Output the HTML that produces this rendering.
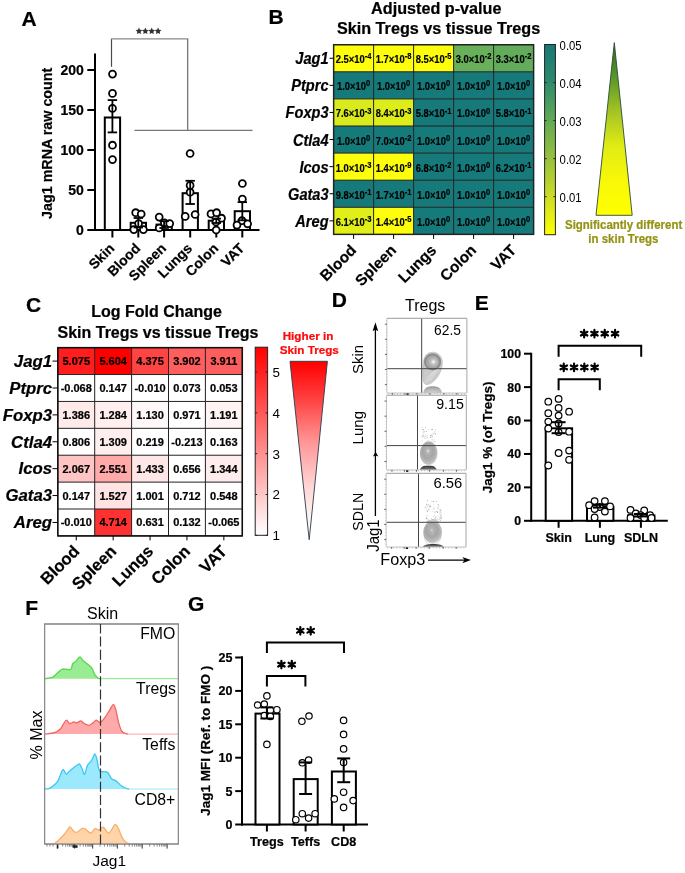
<!DOCTYPE html><html><head><meta charset="utf-8"><style>html,body{margin:0;padding:0;background:#fff;}svg{display:block;will-change:transform;}text{font-family:"Liberation Sans",sans-serif;}</style></head><body>
<svg width="685" height="873" viewBox="0 0 685 873">
<defs>
<linearGradient id="gB" x1="0" y1="0" x2="0" y2="1"><stop offset="0" stop-color="#177878"/><stop offset="0.2" stop-color="#2E8B6C"/><stop offset="0.4" stop-color="#62AA56"/><stop offset="0.6" stop-color="#97C13E"/><stop offset="0.8" stop-color="#CBDC25"/><stop offset="1" stop-color="#FFFF00"/></linearGradient>
<linearGradient id="gTriB" x1="0" y1="0" x2="0" y2="1"><stop offset="0" stop-color="#2A6A1C"/><stop offset="0.2" stop-color="#5A9628"/><stop offset="0.4" stop-color="#A4C424"/><stop offset="0.6" stop-color="#E0EC14"/><stop offset="0.8" stop-color="#F8F808"/><stop offset="1" stop-color="#FFFF00"/></linearGradient>
<linearGradient id="gC" x1="0" y1="0" x2="0" y2="1"><stop offset="0" stop-color="#FF0000"/><stop offset="1" stop-color="#FFFFFF"/></linearGradient>
<linearGradient id="gTriC" x1="0" y1="0" x2="0" y2="1"><stop offset="0" stop-color="#FF0000"/><stop offset="0.21" stop-color="#FF4040"/><stop offset="0.45" stop-color="#FF9595"/><stop offset="0.7" stop-color="#FFD5D5"/><stop offset="0.86" stop-color="#FFF0F0"/><stop offset="1" stop-color="#FFFFFF"/></linearGradient>
<radialGradient id="blobTop" cx="0.55" cy="0.5" r="0.5"><stop offset="0" stop-color="#fff"/><stop offset="0.2" stop-color="#e2e2e2"/><stop offset="0.45" stop-color="#c2c2c2"/><stop offset="0.8" stop-color="#b0b0b0"/><stop offset="1" stop-color="#a6a6a6"/></radialGradient>
<radialGradient id="blobMid" cx="0.45" cy="0.4" r="0.6"><stop offset="0" stop-color="#fafafa"/><stop offset="0.1" stop-color="#bdbdbd"/><stop offset="0.5" stop-color="#a8a8a8"/><stop offset="0.8" stop-color="#bcbcbc"/><stop offset="1" stop-color="#dedede"/></radialGradient>
<radialGradient id="blobBot1" cx="0.5" cy="1" r="1"><stop offset="0" stop-color="#d4d4d4"/><stop offset="0.6" stop-color="#b4b4b4"/><stop offset="0.88" stop-color="#999"/><stop offset="1" stop-color="#ccc"/></radialGradient>
<radialGradient id="blobBot2" cx="0.5" cy="1" r="1"><stop offset="0" stop-color="#777"/><stop offset="0.6" stop-color="#555"/><stop offset="0.9" stop-color="#333"/><stop offset="1" stop-color="#888"/></radialGradient>
</defs>
<text x="21.50" y="25.60" font-size="21" font-weight="bold" stroke="#000" stroke-width="0.22"  text-anchor="start" fill="#000" >A</text>
<line x1="95.00" y1="53.50" x2="95.00" y2="231.00" stroke="#000" stroke-width="2" />
<line x1="87.30" y1="230.00" x2="95.00" y2="230.00" stroke="#000" stroke-width="2" />
<text x="83.90" y="234.90" font-size="14" font-weight="bold" stroke="#000" stroke-width="0.22"  text-anchor="end" fill="#000" >0</text>
<line x1="87.30" y1="190.00" x2="95.00" y2="190.00" stroke="#000" stroke-width="2" />
<text x="83.90" y="194.90" font-size="14" font-weight="bold" stroke="#000" stroke-width="0.22"  text-anchor="end" fill="#000" >50</text>
<line x1="87.30" y1="150.00" x2="95.00" y2="150.00" stroke="#000" stroke-width="2" />
<text x="83.90" y="154.90" font-size="14" font-weight="bold" stroke="#000" stroke-width="0.22"  text-anchor="end" fill="#000" >100</text>
<line x1="87.30" y1="110.00" x2="95.00" y2="110.00" stroke="#000" stroke-width="2" />
<text x="83.90" y="114.90" font-size="14" font-weight="bold" stroke="#000" stroke-width="0.22"  text-anchor="end" fill="#000" >150</text>
<line x1="87.30" y1="70.00" x2="95.00" y2="70.00" stroke="#000" stroke-width="2" />
<text x="83.90" y="74.90" font-size="14" font-weight="bold" stroke="#000" stroke-width="0.22"  text-anchor="end" fill="#000" >200</text>
<text transform="translate(51.80,143.30) rotate(-90)" font-size="14.3" font-weight="bold" stroke="#000" stroke-width="0.22"  text-anchor="middle" fill="#000">Jag1 mRNA raw count</text>
<line x1="94.00" y1="230.00" x2="259.50" y2="230.00" stroke="#000" stroke-width="2" />
<line x1="112.40" y1="230.00" x2="112.40" y2="237.50" stroke="#000" stroke-width="2" />
<line x1="138.30" y1="230.00" x2="138.30" y2="237.50" stroke="#000" stroke-width="2" />
<line x1="164.10" y1="230.00" x2="164.10" y2="237.50" stroke="#000" stroke-width="2" />
<line x1="190.20" y1="230.00" x2="190.20" y2="237.50" stroke="#000" stroke-width="2" />
<line x1="216.30" y1="230.00" x2="216.30" y2="237.50" stroke="#000" stroke-width="2" />
<line x1="242.30" y1="230.00" x2="242.30" y2="237.50" stroke="#000" stroke-width="2" />
<text transform="translate(115.30,249.20) rotate(-45)" font-size="14.0" font-weight="bold" stroke="#000" stroke-width="0.22"  text-anchor="end" fill="#000">Skin</text>
<text transform="translate(141.20,249.20) rotate(-45)" font-size="14.0" font-weight="bold" stroke="#000" stroke-width="0.22"  text-anchor="end" fill="#000">Blood</text>
<text transform="translate(167.00,249.20) rotate(-45)" font-size="14.0" font-weight="bold" stroke="#000" stroke-width="0.22"  text-anchor="end" fill="#000">Spleen</text>
<text transform="translate(193.10,249.20) rotate(-45)" font-size="14.0" font-weight="bold" stroke="#000" stroke-width="0.22"  text-anchor="end" fill="#000">Lungs</text>
<text transform="translate(219.20,249.20) rotate(-45)" font-size="14.0" font-weight="bold" stroke="#000" stroke-width="0.22"  text-anchor="end" fill="#000">Colon</text>
<text transform="translate(245.20,249.20) rotate(-45)" font-size="14.0" font-weight="bold" stroke="#000" stroke-width="0.22"  text-anchor="end" fill="#000">VAT</text>
<rect x="104.80" y="117.50" width="15.30" height="112.50" fill="#fff" stroke="#000" stroke-width="2" />
<rect x="130.70" y="222.80" width="15.30" height="7.20" fill="#fff" stroke="#000" stroke-width="2" />
<rect x="156.50" y="224.60" width="15.30" height="5.40" fill="#fff" stroke="#000" stroke-width="2" />
<rect x="182.60" y="193.20" width="15.30" height="36.80" fill="#fff" stroke="#000" stroke-width="2" />
<rect x="208.70" y="220.70" width="15.30" height="9.30" fill="#fff" stroke="#000" stroke-width="2" />
<rect x="234.70" y="211.20" width="15.30" height="18.80" fill="#fff" stroke="#000" stroke-width="2" />
<circle cx="112.50" cy="74.10" r="3.45" fill="#fff" stroke="#000" stroke-width="1.8"/>
<circle cx="112.50" cy="93.40" r="3.45" fill="#fff" stroke="#000" stroke-width="1.8"/>
<circle cx="112.50" cy="108.40" r="3.45" fill="#fff" stroke="#000" stroke-width="1.8"/>
<circle cx="112.50" cy="145.20" r="3.45" fill="#fff" stroke="#000" stroke-width="1.8"/>
<circle cx="112.50" cy="159.60" r="3.45" fill="#fff" stroke="#000" stroke-width="1.8"/>
<circle cx="135.70" cy="212.70" r="3.45" fill="#fff" stroke="#000" stroke-width="1.8"/>
<circle cx="141.20" cy="214.00" r="3.45" fill="#fff" stroke="#000" stroke-width="1.8"/>
<circle cx="138.60" cy="223.60" r="3.45" fill="#fff" stroke="#000" stroke-width="1.8"/>
<circle cx="133.80" cy="229.60" r="3.45" fill="#fff" stroke="#000" stroke-width="1.8"/>
<circle cx="143.40" cy="229.60" r="3.45" fill="#fff" stroke="#000" stroke-width="1.8"/>
<circle cx="159.20" cy="217.10" r="3.45" fill="#fff" stroke="#000" stroke-width="1.8"/>
<circle cx="164.40" cy="222.80" r="3.45" fill="#fff" stroke="#000" stroke-width="1.8"/>
<circle cx="169.70" cy="223.60" r="3.45" fill="#fff" stroke="#000" stroke-width="1.8"/>
<circle cx="159.20" cy="228.00" r="3.45" fill="#fff" stroke="#000" stroke-width="1.8"/>
<circle cx="190.10" cy="153.50" r="3.45" fill="#fff" stroke="#000" stroke-width="1.8"/>
<circle cx="190.10" cy="185.40" r="3.45" fill="#fff" stroke="#000" stroke-width="1.8"/>
<circle cx="190.10" cy="192.20" r="3.45" fill="#fff" stroke="#000" stroke-width="1.8"/>
<circle cx="185.20" cy="216.40" r="3.45" fill="#fff" stroke="#000" stroke-width="1.8"/>
<circle cx="195.10" cy="214.50" r="3.45" fill="#fff" stroke="#000" stroke-width="1.8"/>
<circle cx="211.00" cy="213.90" r="3.45" fill="#fff" stroke="#000" stroke-width="1.8"/>
<circle cx="216.60" cy="212.70" r="3.45" fill="#fff" stroke="#000" stroke-width="1.8"/>
<circle cx="221.50" cy="218.20" r="3.45" fill="#fff" stroke="#000" stroke-width="1.8"/>
<circle cx="216.00" cy="222.00" r="3.45" fill="#fff" stroke="#000" stroke-width="1.8"/>
<circle cx="216.20" cy="230.00" r="3.45" fill="#fff" stroke="#000" stroke-width="1.8"/>
<circle cx="242.40" cy="183.50" r="3.45" fill="#fff" stroke="#000" stroke-width="1.8"/>
<circle cx="242.40" cy="199.00" r="3.45" fill="#fff" stroke="#000" stroke-width="1.8"/>
<circle cx="242.00" cy="220.70" r="3.45" fill="#fff" stroke="#000" stroke-width="1.8"/>
<circle cx="237.00" cy="225.10" r="3.45" fill="#fff" stroke="#000" stroke-width="1.8"/>
<circle cx="247.60" cy="223.80" r="3.45" fill="#fff" stroke="#000" stroke-width="1.8"/>
<line x1="112.40" y1="100.10" x2="112.40" y2="132.40" stroke="#000" stroke-width="1.8" />
<line x1="107.70" y1="100.10" x2="117.10" y2="100.10" stroke="#000" stroke-width="1.8" />
<line x1="107.70" y1="132.40" x2="117.10" y2="132.40" stroke="#000" stroke-width="1.8" />
<line x1="138.30" y1="218.00" x2="138.30" y2="227.50" stroke="#000" stroke-width="1.8" />
<line x1="133.60" y1="218.00" x2="143.00" y2="218.00" stroke="#000" stroke-width="1.8" />
<line x1="133.60" y1="227.50" x2="143.00" y2="227.50" stroke="#000" stroke-width="1.8" />
<line x1="164.10" y1="221.20" x2="164.10" y2="228.00" stroke="#000" stroke-width="1.8" />
<line x1="159.40" y1="221.20" x2="168.80" y2="221.20" stroke="#000" stroke-width="1.8" />
<line x1="159.40" y1="228.00" x2="168.80" y2="228.00" stroke="#000" stroke-width="1.8" />
<line x1="190.20" y1="180.80" x2="190.20" y2="204.00" stroke="#000" stroke-width="1.8" />
<line x1="185.50" y1="180.80" x2="194.90" y2="180.80" stroke="#000" stroke-width="1.8" />
<line x1="185.50" y1="204.00" x2="194.90" y2="204.00" stroke="#000" stroke-width="1.8" />
<line x1="216.30" y1="218.60" x2="216.30" y2="223.00" stroke="#000" stroke-width="1.8" />
<line x1="211.60" y1="218.60" x2="221.00" y2="218.60" stroke="#000" stroke-width="1.8" />
<line x1="211.60" y1="223.00" x2="221.00" y2="223.00" stroke="#000" stroke-width="1.8" />
<line x1="242.30" y1="202.10" x2="242.30" y2="220.30" stroke="#000" stroke-width="1.8" />
<line x1="237.60" y1="202.10" x2="247.00" y2="202.10" stroke="#000" stroke-width="1.8" />
<line x1="237.60" y1="220.30" x2="247.00" y2="220.30" stroke="#000" stroke-width="1.8" />
<line x1="111.50" y1="66.80" x2="111.50" y2="38.90" stroke="#4a4a4a" stroke-width="1.2" />
<line x1="110.90" y1="38.90" x2="188.30" y2="38.90" stroke="#8a8a8a" stroke-width="1.3" />
<line x1="187.70" y1="38.90" x2="187.70" y2="130.40" stroke="#6a6a6a" stroke-width="1.2" />
<line x1="134.40" y1="130.40" x2="252.50" y2="130.40" stroke="#777" stroke-width="1.2" />
<polygon points="139.00,27.60 140.03,29.78 142.42,30.09 140.66,31.74 141.12,34.11 139.00,32.95 136.88,34.11 137.34,31.74 135.58,30.09 137.97,29.78" fill="#333"/>
<polygon points="145.35,27.60 146.38,29.78 148.77,30.09 147.01,31.74 147.47,34.11 145.35,32.95 143.23,34.11 143.69,31.74 141.93,30.09 144.32,29.78" fill="#333"/>
<polygon points="151.70,27.60 152.73,29.78 155.12,30.09 153.36,31.74 153.82,34.11 151.70,32.95 149.58,34.11 150.04,31.74 148.28,30.09 150.67,29.78" fill="#333"/>
<polygon points="158.05,27.60 159.08,29.78 161.47,30.09 159.71,31.74 160.17,34.11 158.05,32.95 155.93,34.11 156.39,31.74 154.63,30.09 157.02,29.78" fill="#333"/>
<text x="268.60" y="23.90" font-size="21" font-weight="bold" stroke="#000" stroke-width="0.22"  text-anchor="start" fill="#000" >B</text>
<text x="436.30" y="13.60" font-size="16.2" font-weight="bold" stroke="#000" stroke-width="0.22"  text-anchor="middle" fill="#000" >Adjusted p-value</text>
<text x="438.60" y="33.80" font-size="16.2" font-weight="bold" stroke="#000" stroke-width="0.22"  text-anchor="middle" fill="#000" >Skin Tregs vs tissue Tregs</text>
<rect x="333.60" y="44.70" width="40.00" height="27.10" fill="#FDFD0C" stroke="none" stroke-width="1" />
<rect x="373.60" y="44.70" width="40.00" height="27.10" fill="#FDFD0C" stroke="none" stroke-width="1" />
<rect x="413.60" y="44.70" width="40.00" height="27.10" fill="#FDFD0C" stroke="none" stroke-width="1" />
<rect x="453.60" y="44.70" width="40.00" height="27.10" fill="#69B05A" stroke="none" stroke-width="1" />
<rect x="493.60" y="44.70" width="40.00" height="27.10" fill="#62AC5C" stroke="none" stroke-width="1" />
<rect x="333.60" y="71.80" width="40.00" height="27.10" fill="#16797A" stroke="none" stroke-width="1" />
<rect x="373.60" y="71.80" width="40.00" height="27.10" fill="#16797A" stroke="none" stroke-width="1" />
<rect x="413.60" y="71.80" width="40.00" height="27.10" fill="#16797A" stroke="none" stroke-width="1" />
<rect x="453.60" y="71.80" width="40.00" height="27.10" fill="#16797A" stroke="none" stroke-width="1" />
<rect x="493.60" y="71.80" width="40.00" height="27.10" fill="#16797A" stroke="none" stroke-width="1" />
<rect x="333.60" y="98.90" width="40.00" height="27.10" fill="#D9EB1C" stroke="none" stroke-width="1" />
<rect x="373.60" y="98.90" width="40.00" height="27.10" fill="#DDED1A" stroke="none" stroke-width="1" />
<rect x="413.60" y="98.90" width="40.00" height="27.10" fill="#16797A" stroke="none" stroke-width="1" />
<rect x="453.60" y="98.90" width="40.00" height="27.10" fill="#16797A" stroke="none" stroke-width="1" />
<rect x="493.60" y="98.90" width="40.00" height="27.10" fill="#16797A" stroke="none" stroke-width="1" />
<rect x="333.60" y="126.00" width="40.00" height="27.10" fill="#16797A" stroke="none" stroke-width="1" />
<rect x="373.60" y="126.00" width="40.00" height="27.10" fill="#16797A" stroke="none" stroke-width="1" />
<rect x="413.60" y="126.00" width="40.00" height="27.10" fill="#16797A" stroke="none" stroke-width="1" />
<rect x="453.60" y="126.00" width="40.00" height="27.10" fill="#16797A" stroke="none" stroke-width="1" />
<rect x="493.60" y="126.00" width="40.00" height="27.10" fill="#16797A" stroke="none" stroke-width="1" />
<rect x="333.60" y="153.10" width="40.00" height="27.10" fill="#FDFD0C" stroke="none" stroke-width="1" />
<rect x="373.60" y="153.10" width="40.00" height="27.10" fill="#FDFD0C" stroke="none" stroke-width="1" />
<rect x="413.60" y="153.10" width="40.00" height="27.10" fill="#16797A" stroke="none" stroke-width="1" />
<rect x="453.60" y="153.10" width="40.00" height="27.10" fill="#16797A" stroke="none" stroke-width="1" />
<rect x="493.60" y="153.10" width="40.00" height="27.10" fill="#16797A" stroke="none" stroke-width="1" />
<rect x="333.60" y="180.20" width="40.00" height="27.10" fill="#16797A" stroke="none" stroke-width="1" />
<rect x="373.60" y="180.20" width="40.00" height="27.10" fill="#16797A" stroke="none" stroke-width="1" />
<rect x="413.60" y="180.20" width="40.00" height="27.10" fill="#16797A" stroke="none" stroke-width="1" />
<rect x="453.60" y="180.20" width="40.00" height="27.10" fill="#16797A" stroke="none" stroke-width="1" />
<rect x="493.60" y="180.20" width="40.00" height="27.10" fill="#16797A" stroke="none" stroke-width="1" />
<rect x="333.60" y="207.30" width="40.00" height="27.10" fill="#E1EF18" stroke="none" stroke-width="1" />
<rect x="373.60" y="207.30" width="40.00" height="27.10" fill="#FDFD0C" stroke="none" stroke-width="1" />
<rect x="413.60" y="207.30" width="40.00" height="27.10" fill="#16797A" stroke="none" stroke-width="1" />
<rect x="453.60" y="207.30" width="40.00" height="27.10" fill="#16797A" stroke="none" stroke-width="1" />
<rect x="493.60" y="207.30" width="40.00" height="27.10" fill="#16797A" stroke="none" stroke-width="1" />
<text transform="translate(353.60,63.25) scale(0.9,1)" font-size="10.4" font-weight="bold" stroke="#000" stroke-width="0.18" text-anchor="middle" fill="#000">2.5×10<tspan font-size="8.4" dy="-3.9">-4</tspan></text>
<text transform="translate(393.60,63.25) scale(0.9,1)" font-size="10.4" font-weight="bold" stroke="#000" stroke-width="0.18" text-anchor="middle" fill="#000">1.7×10<tspan font-size="8.4" dy="-3.9">-8</tspan></text>
<text transform="translate(433.60,63.25) scale(0.9,1)" font-size="10.4" font-weight="bold" stroke="#000" stroke-width="0.18" text-anchor="middle" fill="#000">8.5×10<tspan font-size="8.4" dy="-3.9">-5</tspan></text>
<text transform="translate(473.60,63.25) scale(0.9,1)" font-size="10.4" font-weight="bold" stroke="#000" stroke-width="0.18" text-anchor="middle" fill="#000">3.0×10<tspan font-size="8.4" dy="-3.9">-2</tspan></text>
<text transform="translate(513.60,63.25) scale(0.9,1)" font-size="10.4" font-weight="bold" stroke="#000" stroke-width="0.18" text-anchor="middle" fill="#000">3.3×10<tspan font-size="8.4" dy="-3.9">-2</tspan></text>
<text transform="translate(353.60,90.35) scale(0.9,1)" font-size="10.4" font-weight="bold" stroke="#000" stroke-width="0.18" text-anchor="middle" fill="#000">1.0×10<tspan font-size="8.4" dy="-3.9">0</tspan></text>
<text transform="translate(393.60,90.35) scale(0.9,1)" font-size="10.4" font-weight="bold" stroke="#000" stroke-width="0.18" text-anchor="middle" fill="#000">1.0×10<tspan font-size="8.4" dy="-3.9">0</tspan></text>
<text transform="translate(433.60,90.35) scale(0.9,1)" font-size="10.4" font-weight="bold" stroke="#000" stroke-width="0.18" text-anchor="middle" fill="#000">1.0×10<tspan font-size="8.4" dy="-3.9">0</tspan></text>
<text transform="translate(473.60,90.35) scale(0.9,1)" font-size="10.4" font-weight="bold" stroke="#000" stroke-width="0.18" text-anchor="middle" fill="#000">1.0×10<tspan font-size="8.4" dy="-3.9">0</tspan></text>
<text transform="translate(513.60,90.35) scale(0.9,1)" font-size="10.4" font-weight="bold" stroke="#000" stroke-width="0.18" text-anchor="middle" fill="#000">1.0×10<tspan font-size="8.4" dy="-3.9">0</tspan></text>
<text transform="translate(353.60,117.45) scale(0.9,1)" font-size="10.4" font-weight="bold" stroke="#000" stroke-width="0.18" text-anchor="middle" fill="#000">7.6×10<tspan font-size="8.4" dy="-3.9">-3</tspan></text>
<text transform="translate(393.60,117.45) scale(0.9,1)" font-size="10.4" font-weight="bold" stroke="#000" stroke-width="0.18" text-anchor="middle" fill="#000">8.4×10<tspan font-size="8.4" dy="-3.9">-3</tspan></text>
<text transform="translate(433.60,117.45) scale(0.9,1)" font-size="10.4" font-weight="bold" stroke="#000" stroke-width="0.18" text-anchor="middle" fill="#000">5.8×10<tspan font-size="8.4" dy="-3.9">-1</tspan></text>
<text transform="translate(473.60,117.45) scale(0.9,1)" font-size="10.4" font-weight="bold" stroke="#000" stroke-width="0.18" text-anchor="middle" fill="#000">1.0×10<tspan font-size="8.4" dy="-3.9">0</tspan></text>
<text transform="translate(513.60,117.45) scale(0.9,1)" font-size="10.4" font-weight="bold" stroke="#000" stroke-width="0.18" text-anchor="middle" fill="#000">5.8×10<tspan font-size="8.4" dy="-3.9">-1</tspan></text>
<text transform="translate(353.60,144.55) scale(0.9,1)" font-size="10.4" font-weight="bold" stroke="#000" stroke-width="0.18" text-anchor="middle" fill="#000">1.0×10<tspan font-size="8.4" dy="-3.9">0</tspan></text>
<text transform="translate(393.60,144.55) scale(0.9,1)" font-size="10.4" font-weight="bold" stroke="#000" stroke-width="0.18" text-anchor="middle" fill="#000">7.0×10<tspan font-size="8.4" dy="-3.9">-2</tspan></text>
<text transform="translate(433.60,144.55) scale(0.9,1)" font-size="10.4" font-weight="bold" stroke="#000" stroke-width="0.18" text-anchor="middle" fill="#000">1.0×10<tspan font-size="8.4" dy="-3.9">0</tspan></text>
<text transform="translate(473.60,144.55) scale(0.9,1)" font-size="10.4" font-weight="bold" stroke="#000" stroke-width="0.18" text-anchor="middle" fill="#000">1.0×10<tspan font-size="8.4" dy="-3.9">0</tspan></text>
<text transform="translate(513.60,144.55) scale(0.9,1)" font-size="10.4" font-weight="bold" stroke="#000" stroke-width="0.18" text-anchor="middle" fill="#000">1.0×10<tspan font-size="8.4" dy="-3.9">0</tspan></text>
<text transform="translate(353.60,171.65) scale(0.9,1)" font-size="10.4" font-weight="bold" stroke="#000" stroke-width="0.18" text-anchor="middle" fill="#000">1.0×10<tspan font-size="8.4" dy="-3.9">-3</tspan></text>
<text transform="translate(393.60,171.65) scale(0.9,1)" font-size="10.4" font-weight="bold" stroke="#000" stroke-width="0.18" text-anchor="middle" fill="#000">1.4×10<tspan font-size="8.4" dy="-3.9">-9</tspan></text>
<text transform="translate(433.60,171.65) scale(0.9,1)" font-size="10.4" font-weight="bold" stroke="#000" stroke-width="0.18" text-anchor="middle" fill="#000">6.8×10<tspan font-size="8.4" dy="-3.9">-2</tspan></text>
<text transform="translate(473.60,171.65) scale(0.9,1)" font-size="10.4" font-weight="bold" stroke="#000" stroke-width="0.18" text-anchor="middle" fill="#000">1.0×10<tspan font-size="8.4" dy="-3.9">0</tspan></text>
<text transform="translate(513.60,171.65) scale(0.9,1)" font-size="10.4" font-weight="bold" stroke="#000" stroke-width="0.18" text-anchor="middle" fill="#000">6.2×10<tspan font-size="8.4" dy="-3.9">-1</tspan></text>
<text transform="translate(353.60,198.75) scale(0.9,1)" font-size="10.4" font-weight="bold" stroke="#000" stroke-width="0.18" text-anchor="middle" fill="#000">9.8×10<tspan font-size="8.4" dy="-3.9">-1</tspan></text>
<text transform="translate(393.60,198.75) scale(0.9,1)" font-size="10.4" font-weight="bold" stroke="#000" stroke-width="0.18" text-anchor="middle" fill="#000">1.7×10<tspan font-size="8.4" dy="-3.9">-1</tspan></text>
<text transform="translate(433.60,198.75) scale(0.9,1)" font-size="10.4" font-weight="bold" stroke="#000" stroke-width="0.18" text-anchor="middle" fill="#000">1.0×10<tspan font-size="8.4" dy="-3.9">0</tspan></text>
<text transform="translate(473.60,198.75) scale(0.9,1)" font-size="10.4" font-weight="bold" stroke="#000" stroke-width="0.18" text-anchor="middle" fill="#000">1.0×10<tspan font-size="8.4" dy="-3.9">0</tspan></text>
<text transform="translate(513.60,198.75) scale(0.9,1)" font-size="10.4" font-weight="bold" stroke="#000" stroke-width="0.18" text-anchor="middle" fill="#000">1.0×10<tspan font-size="8.4" dy="-3.9">0</tspan></text>
<text transform="translate(353.60,225.85) scale(0.9,1)" font-size="10.4" font-weight="bold" stroke="#000" stroke-width="0.18" text-anchor="middle" fill="#000">6.1×10<tspan font-size="8.4" dy="-3.9">-3</tspan></text>
<text transform="translate(393.60,225.85) scale(0.9,1)" font-size="10.4" font-weight="bold" stroke="#000" stroke-width="0.18" text-anchor="middle" fill="#000">1.4×10<tspan font-size="8.4" dy="-3.9">-5</tspan></text>
<text transform="translate(433.60,225.85) scale(0.9,1)" font-size="10.4" font-weight="bold" stroke="#000" stroke-width="0.18" text-anchor="middle" fill="#000">1.0×10<tspan font-size="8.4" dy="-3.9">0</tspan></text>
<text transform="translate(473.60,225.85) scale(0.9,1)" font-size="10.4" font-weight="bold" stroke="#000" stroke-width="0.18" text-anchor="middle" fill="#000">1.0×10<tspan font-size="8.4" dy="-3.9">0</tspan></text>
<text transform="translate(513.60,225.85) scale(0.9,1)" font-size="10.4" font-weight="bold" stroke="#000" stroke-width="0.18" text-anchor="middle" fill="#000">1.0×10<tspan font-size="8.4" dy="-3.9">0</tspan></text>
<line x1="333.60" y1="44.70" x2="333.60" y2="234.40" stroke="#222" stroke-width="1" />
<line x1="373.60" y1="44.70" x2="373.60" y2="234.40" stroke="#222" stroke-width="1" />
<line x1="413.60" y1="44.70" x2="413.60" y2="234.40" stroke="#222" stroke-width="1" />
<line x1="453.60" y1="44.70" x2="453.60" y2="234.40" stroke="#222" stroke-width="1" />
<line x1="493.60" y1="44.70" x2="493.60" y2="234.40" stroke="#222" stroke-width="1" />
<line x1="533.60" y1="44.70" x2="533.60" y2="234.40" stroke="#222" stroke-width="1" />
<line x1="333.60" y1="44.70" x2="533.60" y2="44.70" stroke="#222" stroke-width="1" />
<line x1="333.60" y1="71.80" x2="533.60" y2="71.80" stroke="#222" stroke-width="1" />
<line x1="333.60" y1="98.90" x2="533.60" y2="98.90" stroke="#222" stroke-width="1" />
<line x1="333.60" y1="126.00" x2="533.60" y2="126.00" stroke="#222" stroke-width="1" />
<line x1="333.60" y1="153.10" x2="533.60" y2="153.10" stroke="#222" stroke-width="1" />
<line x1="333.60" y1="180.20" x2="533.60" y2="180.20" stroke="#222" stroke-width="1" />
<line x1="333.60" y1="207.30" x2="533.60" y2="207.30" stroke="#222" stroke-width="1" />
<line x1="333.60" y1="234.40" x2="533.60" y2="234.40" stroke="#222" stroke-width="1" />
<rect x="333.60" y="44.70" width="200.00" height="189.70" fill="none" stroke="#222" stroke-width="1.4" />
<line x1="329.50" y1="58.25" x2="333.60" y2="58.25" stroke="#000" stroke-width="1" />
<text transform="translate(328.6,64.25) scale(0.885,1)" font-size="16.5" font-weight="bold" stroke="#000" stroke-width="0.22" font-style="italic" text-anchor="end">Jag1</text>
<line x1="329.50" y1="85.35" x2="333.60" y2="85.35" stroke="#000" stroke-width="1" />
<text transform="translate(328.6,91.35) scale(0.885,1)" font-size="16.5" font-weight="bold" stroke="#000" stroke-width="0.22" font-style="italic" text-anchor="end">Ptprc</text>
<line x1="329.50" y1="112.45" x2="333.60" y2="112.45" stroke="#000" stroke-width="1" />
<text transform="translate(328.6,118.45) scale(0.885,1)" font-size="16.5" font-weight="bold" stroke="#000" stroke-width="0.22" font-style="italic" text-anchor="end">Foxp3</text>
<line x1="329.50" y1="139.55" x2="333.60" y2="139.55" stroke="#000" stroke-width="1" />
<text transform="translate(328.6,145.55) scale(0.885,1)" font-size="16.5" font-weight="bold" stroke="#000" stroke-width="0.22" font-style="italic" text-anchor="end">Ctla4</text>
<line x1="329.50" y1="166.65" x2="333.60" y2="166.65" stroke="#000" stroke-width="1" />
<text transform="translate(328.6,172.65) scale(0.885,1)" font-size="16.5" font-weight="bold" stroke="#000" stroke-width="0.22" font-style="italic" text-anchor="end">Icos</text>
<line x1="329.50" y1="193.75" x2="333.60" y2="193.75" stroke="#000" stroke-width="1" />
<text transform="translate(328.6,199.75) scale(0.885,1)" font-size="16.5" font-weight="bold" stroke="#000" stroke-width="0.22" font-style="italic" text-anchor="end">Gata3</text>
<line x1="329.50" y1="220.85" x2="333.60" y2="220.85" stroke="#000" stroke-width="1" />
<text transform="translate(328.6,226.85) scale(0.885,1)" font-size="16.5" font-weight="bold" stroke="#000" stroke-width="0.22" font-style="italic" text-anchor="end">Areg</text>
<line x1="353.60" y1="234.40" x2="353.60" y2="238.90" stroke="#000" stroke-width="1" />
<text transform="translate(357.20,251.20) rotate(-45)" font-size="15.4" font-weight="bold" stroke="#000" stroke-width="0.22"  text-anchor="end" fill="#000">Blood</text>
<line x1="393.60" y1="234.40" x2="393.60" y2="238.90" stroke="#000" stroke-width="1" />
<text transform="translate(397.20,251.20) rotate(-45)" font-size="15.4" font-weight="bold" stroke="#000" stroke-width="0.22"  text-anchor="end" fill="#000">Spleen</text>
<line x1="433.60" y1="234.40" x2="433.60" y2="238.90" stroke="#000" stroke-width="1" />
<text transform="translate(437.20,251.20) rotate(-45)" font-size="15.4" font-weight="bold" stroke="#000" stroke-width="0.22"  text-anchor="end" fill="#000">Lungs</text>
<line x1="473.60" y1="234.40" x2="473.60" y2="238.90" stroke="#000" stroke-width="1" />
<text transform="translate(477.20,251.20) rotate(-45)" font-size="15.4" font-weight="bold" stroke="#000" stroke-width="0.22"  text-anchor="end" fill="#000">Colon</text>
<line x1="513.60" y1="234.40" x2="513.60" y2="238.90" stroke="#000" stroke-width="1" />
<text transform="translate(517.20,251.20) rotate(-45)" font-size="15.4" font-weight="bold" stroke="#000" stroke-width="0.22"  text-anchor="end" fill="#000">VAT</text>
<rect x="544.60" y="44.50" width="10.80" height="190.20" fill="url(#gB)" stroke="#222" stroke-width="1" />
<text transform="translate(559.60,49.50) scale(0.9,1)" font-size="12.6"   text-anchor="start" fill="#000">0.05</text>
<line x1="544.60" y1="82.55" x2="546.60" y2="82.55" stroke="#222" stroke-width="1" />
<line x1="553.40" y1="82.55" x2="555.40" y2="82.55" stroke="#222" stroke-width="1" />
<text transform="translate(559.60,87.55) scale(0.9,1)" font-size="12.6"   text-anchor="start" fill="#000">0.04</text>
<line x1="544.60" y1="120.60" x2="546.60" y2="120.60" stroke="#222" stroke-width="1" />
<line x1="553.40" y1="120.60" x2="555.40" y2="120.60" stroke="#222" stroke-width="1" />
<text transform="translate(559.60,125.60) scale(0.9,1)" font-size="12.6"   text-anchor="start" fill="#000">0.03</text>
<line x1="544.60" y1="158.65" x2="546.60" y2="158.65" stroke="#222" stroke-width="1" />
<line x1="553.40" y1="158.65" x2="555.40" y2="158.65" stroke="#222" stroke-width="1" />
<text transform="translate(559.60,163.65) scale(0.9,1)" font-size="12.6"   text-anchor="start" fill="#000">0.02</text>
<line x1="544.60" y1="196.70" x2="546.60" y2="196.70" stroke="#222" stroke-width="1" />
<line x1="553.40" y1="196.70" x2="555.40" y2="196.70" stroke="#222" stroke-width="1" />
<text transform="translate(559.60,201.70) scale(0.9,1)" font-size="12.6"   text-anchor="start" fill="#000">0.01</text>
<polygon points="614.3,42.6 596,215.3 632.2,215.3" fill="url(#gTriB)" stroke="#2a4a3a" stroke-width="0.9"/>
<text transform="translate(623.60,229.30) scale(0.925,1)" font-size="12.4" font-weight="bold" stroke="#939312" stroke-width="0.22"  text-anchor="middle" fill="#939312">Significantly different</text>
<text transform="translate(623.40,243.30) scale(0.925,1)" font-size="12.4" font-weight="bold" stroke="#939312" stroke-width="0.22"  text-anchor="middle" fill="#939312">in skin Tregs</text>
<text x="26.00" y="312.40" font-size="21" font-weight="bold" stroke="#000" stroke-width="0.22"  text-anchor="start" fill="#000" >C</text>
<text x="156.50" y="317.40" font-size="16" font-weight="bold" stroke="#000" stroke-width="0.22"  text-anchor="middle" fill="#000" >Log Fold Change</text>
<text x="158.00" y="337.80" font-size="16" font-weight="bold" stroke="#000" stroke-width="0.22"  text-anchor="middle" fill="#000" >Skin Tregs vs tissue Tregs</text>
<rect x="57.80" y="347.65" width="36.90" height="26.89" fill="#FF1D1D" stroke="none" stroke-width="1" />
<rect x="94.70" y="347.65" width="36.90" height="26.89" fill="#FF0000" stroke="none" stroke-width="1" />
<rect x="131.60" y="347.65" width="36.90" height="26.89" fill="#FF4444" stroke="none" stroke-width="1" />
<rect x="168.50" y="347.65" width="36.90" height="26.89" fill="#FF5E5E" stroke="none" stroke-width="1" />
<rect x="205.40" y="347.65" width="36.90" height="26.89" fill="#FF5E5E" stroke="none" stroke-width="1" />
<rect x="57.80" y="374.54" width="36.90" height="26.89" fill="#FFFFFF" stroke="none" stroke-width="1" />
<rect x="94.70" y="374.54" width="36.90" height="26.89" fill="#FFFFFF" stroke="none" stroke-width="1" />
<rect x="131.60" y="374.54" width="36.90" height="26.89" fill="#FFFFFF" stroke="none" stroke-width="1" />
<rect x="168.50" y="374.54" width="36.90" height="26.89" fill="#FFFFFF" stroke="none" stroke-width="1" />
<rect x="205.40" y="374.54" width="36.90" height="26.89" fill="#FFFFFF" stroke="none" stroke-width="1" />
<rect x="57.80" y="401.44" width="36.90" height="26.89" fill="#FFEAEA" stroke="none" stroke-width="1" />
<rect x="94.70" y="401.44" width="36.90" height="26.89" fill="#FFEFEF" stroke="none" stroke-width="1" />
<rect x="131.60" y="401.44" width="36.90" height="26.89" fill="#FFF8F8" stroke="none" stroke-width="1" />
<rect x="168.50" y="401.44" width="36.90" height="26.89" fill="#FFFFFF" stroke="none" stroke-width="1" />
<rect x="205.40" y="401.44" width="36.90" height="26.89" fill="#FFF4F4" stroke="none" stroke-width="1" />
<rect x="57.80" y="428.33" width="36.90" height="26.89" fill="#FFFFFF" stroke="none" stroke-width="1" />
<rect x="94.70" y="428.33" width="36.90" height="26.89" fill="#FFEEEE" stroke="none" stroke-width="1" />
<rect x="131.60" y="428.33" width="36.90" height="26.89" fill="#FFFFFF" stroke="none" stroke-width="1" />
<rect x="168.50" y="428.33" width="36.90" height="26.89" fill="#FFFFFF" stroke="none" stroke-width="1" />
<rect x="205.40" y="428.33" width="36.90" height="26.89" fill="#FFFFFF" stroke="none" stroke-width="1" />
<rect x="57.80" y="455.22" width="36.90" height="26.89" fill="#FFC4C4" stroke="none" stroke-width="1" />
<rect x="94.70" y="455.22" width="36.90" height="26.89" fill="#FFA9A9" stroke="none" stroke-width="1" />
<rect x="131.60" y="455.22" width="36.90" height="26.89" fill="#FFE7E7" stroke="none" stroke-width="1" />
<rect x="168.50" y="455.22" width="36.90" height="26.89" fill="#FFFFFF" stroke="none" stroke-width="1" />
<rect x="205.40" y="455.22" width="36.90" height="26.89" fill="#FFECEC" stroke="none" stroke-width="1" />
<rect x="57.80" y="482.12" width="36.90" height="26.89" fill="#FFFFFF" stroke="none" stroke-width="1" />
<rect x="94.70" y="482.12" width="36.90" height="26.89" fill="#FFE2E2" stroke="none" stroke-width="1" />
<rect x="131.60" y="482.12" width="36.90" height="26.89" fill="#FFFFFF" stroke="none" stroke-width="1" />
<rect x="168.50" y="482.12" width="36.90" height="26.89" fill="#FFFFFF" stroke="none" stroke-width="1" />
<rect x="205.40" y="482.12" width="36.90" height="26.89" fill="#FFFFFF" stroke="none" stroke-width="1" />
<rect x="57.80" y="509.01" width="36.90" height="26.89" fill="#FFFFFF" stroke="none" stroke-width="1" />
<rect x="94.70" y="509.01" width="36.90" height="26.89" fill="#FF3131" stroke="none" stroke-width="1" />
<rect x="131.60" y="509.01" width="36.90" height="26.89" fill="#FFFFFF" stroke="none" stroke-width="1" />
<rect x="168.50" y="509.01" width="36.90" height="26.89" fill="#FFFFFF" stroke="none" stroke-width="1" />
<rect x="205.40" y="509.01" width="36.90" height="26.89" fill="#FFFFFF" stroke="none" stroke-width="1" />
<text x="76.25" y="365.10" font-size="11" font-weight="bold" stroke="#000" stroke-width="0.22"  text-anchor="middle" fill="#000" >5.075</text>
<text x="113.15" y="365.10" font-size="11" font-weight="bold" stroke="#000" stroke-width="0.22"  text-anchor="middle" fill="#000" >5.604</text>
<text x="150.05" y="365.10" font-size="11" font-weight="bold" stroke="#000" stroke-width="0.22"  text-anchor="middle" fill="#000" >4.375</text>
<text x="186.95" y="365.10" font-size="11" font-weight="bold" stroke="#000" stroke-width="0.22"  text-anchor="middle" fill="#000" >3.902</text>
<text x="223.85" y="365.10" font-size="11" font-weight="bold" stroke="#000" stroke-width="0.22"  text-anchor="middle" fill="#000" >3.911</text>
<text x="76.25" y="391.99" font-size="11" font-weight="bold" stroke="#000" stroke-width="0.22"  text-anchor="middle" fill="#000" >-0.068</text>
<text x="113.15" y="391.99" font-size="11" font-weight="bold" stroke="#000" stroke-width="0.22"  text-anchor="middle" fill="#000" >0.147</text>
<text x="150.05" y="391.99" font-size="11" font-weight="bold" stroke="#000" stroke-width="0.22"  text-anchor="middle" fill="#000" >-0.010</text>
<text x="186.95" y="391.99" font-size="11" font-weight="bold" stroke="#000" stroke-width="0.22"  text-anchor="middle" fill="#000" >0.073</text>
<text x="223.85" y="391.99" font-size="11" font-weight="bold" stroke="#000" stroke-width="0.22"  text-anchor="middle" fill="#000" >0.053</text>
<text x="76.25" y="418.88" font-size="11" font-weight="bold" stroke="#000" stroke-width="0.22"  text-anchor="middle" fill="#000" >1.386</text>
<text x="113.15" y="418.88" font-size="11" font-weight="bold" stroke="#000" stroke-width="0.22"  text-anchor="middle" fill="#000" >1.284</text>
<text x="150.05" y="418.88" font-size="11" font-weight="bold" stroke="#000" stroke-width="0.22"  text-anchor="middle" fill="#000" >1.130</text>
<text x="186.95" y="418.88" font-size="11" font-weight="bold" stroke="#000" stroke-width="0.22"  text-anchor="middle" fill="#000" >0.971</text>
<text x="223.85" y="418.88" font-size="11" font-weight="bold" stroke="#000" stroke-width="0.22"  text-anchor="middle" fill="#000" >1.191</text>
<text x="76.25" y="445.78" font-size="11" font-weight="bold" stroke="#000" stroke-width="0.22"  text-anchor="middle" fill="#000" >0.806</text>
<text x="113.15" y="445.78" font-size="11" font-weight="bold" stroke="#000" stroke-width="0.22"  text-anchor="middle" fill="#000" >1.309</text>
<text x="150.05" y="445.78" font-size="11" font-weight="bold" stroke="#000" stroke-width="0.22"  text-anchor="middle" fill="#000" >0.219</text>
<text x="186.95" y="445.78" font-size="11" font-weight="bold" stroke="#000" stroke-width="0.22"  text-anchor="middle" fill="#000" >-0.213</text>
<text x="223.85" y="445.78" font-size="11" font-weight="bold" stroke="#000" stroke-width="0.22"  text-anchor="middle" fill="#000" >0.163</text>
<text x="76.25" y="472.67" font-size="11" font-weight="bold" stroke="#000" stroke-width="0.22"  text-anchor="middle" fill="#000" >2.067</text>
<text x="113.15" y="472.67" font-size="11" font-weight="bold" stroke="#000" stroke-width="0.22"  text-anchor="middle" fill="#000" >2.551</text>
<text x="150.05" y="472.67" font-size="11" font-weight="bold" stroke="#000" stroke-width="0.22"  text-anchor="middle" fill="#000" >1.433</text>
<text x="186.95" y="472.67" font-size="11" font-weight="bold" stroke="#000" stroke-width="0.22"  text-anchor="middle" fill="#000" >0.656</text>
<text x="223.85" y="472.67" font-size="11" font-weight="bold" stroke="#000" stroke-width="0.22"  text-anchor="middle" fill="#000" >1.344</text>
<text x="76.25" y="499.56" font-size="11" font-weight="bold" stroke="#000" stroke-width="0.22"  text-anchor="middle" fill="#000" >0.147</text>
<text x="113.15" y="499.56" font-size="11" font-weight="bold" stroke="#000" stroke-width="0.22"  text-anchor="middle" fill="#000" >1.527</text>
<text x="150.05" y="499.56" font-size="11" font-weight="bold" stroke="#000" stroke-width="0.22"  text-anchor="middle" fill="#000" >1.001</text>
<text x="186.95" y="499.56" font-size="11" font-weight="bold" stroke="#000" stroke-width="0.22"  text-anchor="middle" fill="#000" >0.712</text>
<text x="223.85" y="499.56" font-size="11" font-weight="bold" stroke="#000" stroke-width="0.22"  text-anchor="middle" fill="#000" >0.548</text>
<text x="76.25" y="526.45" font-size="11" font-weight="bold" stroke="#000" stroke-width="0.22"  text-anchor="middle" fill="#000" >-0.010</text>
<text x="113.15" y="526.45" font-size="11" font-weight="bold" stroke="#000" stroke-width="0.22"  text-anchor="middle" fill="#000" >4.714</text>
<text x="150.05" y="526.45" font-size="11" font-weight="bold" stroke="#000" stroke-width="0.22"  text-anchor="middle" fill="#000" >0.631</text>
<text x="186.95" y="526.45" font-size="11" font-weight="bold" stroke="#000" stroke-width="0.22"  text-anchor="middle" fill="#000" >0.132</text>
<text x="223.85" y="526.45" font-size="11" font-weight="bold" stroke="#000" stroke-width="0.22"  text-anchor="middle" fill="#000" >-0.065</text>
<line x1="57.80" y1="347.65" x2="57.80" y2="535.90" stroke="#222" stroke-width="1" />
<line x1="94.70" y1="347.65" x2="94.70" y2="535.90" stroke="#222" stroke-width="1" />
<line x1="131.60" y1="347.65" x2="131.60" y2="535.90" stroke="#222" stroke-width="1" />
<line x1="168.50" y1="347.65" x2="168.50" y2="535.90" stroke="#222" stroke-width="1" />
<line x1="205.40" y1="347.65" x2="205.40" y2="535.90" stroke="#222" stroke-width="1" />
<line x1="242.30" y1="347.65" x2="242.30" y2="535.90" stroke="#222" stroke-width="1" />
<line x1="57.80" y1="347.65" x2="242.30" y2="347.65" stroke="#222" stroke-width="1" />
<line x1="57.80" y1="374.54" x2="242.30" y2="374.54" stroke="#222" stroke-width="1" />
<line x1="57.80" y1="401.44" x2="242.30" y2="401.44" stroke="#222" stroke-width="1" />
<line x1="57.80" y1="428.33" x2="242.30" y2="428.33" stroke="#222" stroke-width="1" />
<line x1="57.80" y1="455.22" x2="242.30" y2="455.22" stroke="#222" stroke-width="1" />
<line x1="57.80" y1="482.12" x2="242.30" y2="482.12" stroke="#222" stroke-width="1" />
<line x1="57.80" y1="509.01" x2="242.30" y2="509.01" stroke="#222" stroke-width="1" />
<line x1="57.80" y1="535.90" x2="242.30" y2="535.90" stroke="#222" stroke-width="1" />
<rect x="57.80" y="347.65" width="184.50" height="188.25" fill="none" stroke="#111" stroke-width="1.5" />
<line x1="52.50" y1="361.10" x2="57.80" y2="361.10" stroke="#000" stroke-width="1" />
<text x="52.10" y="366.90" font-size="16.8" font-weight="bold" stroke="#000" stroke-width="0.22" font-style="italic" text-anchor="end" fill="#000" >Jag1</text>
<line x1="52.50" y1="387.99" x2="57.80" y2="387.99" stroke="#000" stroke-width="1" />
<text x="52.10" y="393.79" font-size="16.8" font-weight="bold" stroke="#000" stroke-width="0.22" font-style="italic" text-anchor="end" fill="#000" >Ptprc</text>
<line x1="52.50" y1="414.88" x2="57.80" y2="414.88" stroke="#000" stroke-width="1" />
<text x="52.10" y="420.68" font-size="16.8" font-weight="bold" stroke="#000" stroke-width="0.22" font-style="italic" text-anchor="end" fill="#000" >Foxp3</text>
<line x1="52.50" y1="441.78" x2="57.80" y2="441.78" stroke="#000" stroke-width="1" />
<text x="52.10" y="447.58" font-size="16.8" font-weight="bold" stroke="#000" stroke-width="0.22" font-style="italic" text-anchor="end" fill="#000" >Ctla4</text>
<line x1="52.50" y1="468.67" x2="57.80" y2="468.67" stroke="#000" stroke-width="1" />
<text x="52.10" y="474.47" font-size="16.8" font-weight="bold" stroke="#000" stroke-width="0.22" font-style="italic" text-anchor="end" fill="#000" >Icos</text>
<line x1="52.50" y1="495.56" x2="57.80" y2="495.56" stroke="#000" stroke-width="1" />
<text x="52.10" y="501.36" font-size="16.8" font-weight="bold" stroke="#000" stroke-width="0.22" font-style="italic" text-anchor="end" fill="#000" >Gata3</text>
<line x1="52.50" y1="522.45" x2="57.80" y2="522.45" stroke="#000" stroke-width="1" />
<text x="52.10" y="528.25" font-size="16.8" font-weight="bold" stroke="#000" stroke-width="0.22" font-style="italic" text-anchor="end" fill="#000" >Areg</text>
<line x1="76.25" y1="535.90" x2="76.25" y2="540.40" stroke="#000" stroke-width="1" />
<text transform="translate(80.45,552.30) rotate(-45)" font-size="16.6" font-weight="bold" stroke="#000" stroke-width="0.22"  text-anchor="end" fill="#000">Blood</text>
<line x1="113.15" y1="535.90" x2="113.15" y2="540.40" stroke="#000" stroke-width="1" />
<text transform="translate(117.35,552.30) rotate(-45)" font-size="16.6" font-weight="bold" stroke="#000" stroke-width="0.22"  text-anchor="end" fill="#000">Spleen</text>
<line x1="150.05" y1="535.90" x2="150.05" y2="540.40" stroke="#000" stroke-width="1" />
<text transform="translate(154.25,552.30) rotate(-45)" font-size="16.6" font-weight="bold" stroke="#000" stroke-width="0.22"  text-anchor="end" fill="#000">Lungs</text>
<line x1="186.95" y1="535.90" x2="186.95" y2="540.40" stroke="#000" stroke-width="1" />
<text transform="translate(191.15,552.30) rotate(-45)" font-size="16.6" font-weight="bold" stroke="#000" stroke-width="0.22"  text-anchor="end" fill="#000">Colon</text>
<line x1="223.85" y1="535.90" x2="223.85" y2="540.40" stroke="#000" stroke-width="1" />
<text transform="translate(228.05,552.30) rotate(-45)" font-size="16.6" font-weight="bold" stroke="#000" stroke-width="0.22"  text-anchor="end" fill="#000">VAT</text>
<rect x="255.20" y="347.20" width="12.40" height="188.10" fill="url(#gC)" stroke="#222" stroke-width="1" />
<line x1="265.60" y1="372.10" x2="267.60" y2="372.10" stroke="#222" stroke-width="1" />
<line x1="255.20" y1="372.10" x2="257.20" y2="372.10" stroke="#222" stroke-width="1" />
<text x="272.40" y="377.00" font-size="13.4"   text-anchor="start" fill="#000" >5</text>
<line x1="265.60" y1="412.90" x2="267.60" y2="412.90" stroke="#222" stroke-width="1" />
<line x1="255.20" y1="412.90" x2="257.20" y2="412.90" stroke="#222" stroke-width="1" />
<text x="272.40" y="417.80" font-size="13.4"   text-anchor="start" fill="#000" >4</text>
<line x1="265.60" y1="453.70" x2="267.60" y2="453.70" stroke="#222" stroke-width="1" />
<line x1="255.20" y1="453.70" x2="257.20" y2="453.70" stroke="#222" stroke-width="1" />
<text x="272.40" y="458.60" font-size="13.4"   text-anchor="start" fill="#000" >3</text>
<line x1="265.60" y1="494.50" x2="267.60" y2="494.50" stroke="#222" stroke-width="1" />
<line x1="255.20" y1="494.50" x2="257.20" y2="494.50" stroke="#222" stroke-width="1" />
<text x="272.40" y="499.40" font-size="13.4"   text-anchor="start" fill="#000" >2</text>
<line x1="265.60" y1="535.30" x2="267.60" y2="535.30" stroke="#222" stroke-width="1" />
<line x1="255.20" y1="535.30" x2="257.20" y2="535.30" stroke="#222" stroke-width="1" />
<text x="272.40" y="540.20" font-size="13.4"   text-anchor="start" fill="#000" >1</text>
<polygon points="290,361.3 327.4,361.3 309.2,539.7" fill="url(#gTriC)" stroke="#2a3a4a" stroke-width="0.9"/>
<text x="308.00" y="339.80" font-size="11.7" font-weight="bold" stroke="#FF0808" stroke-width="0.22"  text-anchor="middle" fill="#FF0808" >Higher in</text>
<text x="309.30" y="353.90" font-size="11.7" font-weight="bold" stroke="#FF0808" stroke-width="0.22"  text-anchor="middle" fill="#FF0808" >Skin Tregs</text>
<text x="331.70" y="307.40" font-size="21" font-weight="bold" stroke="#000" stroke-width="0.22"  text-anchor="start" fill="#000" >D</text>
<text x="425.20" y="311.20" font-size="16"   text-anchor="middle" fill="#000" >Tregs</text>
<rect x="386.90" y="318.30" width="80.00" height="74.70" fill="#fff" stroke="none" stroke-width="1" />
<rect x="386.50" y="395.20" width="79.80" height="74.70" fill="#fff" stroke="none" stroke-width="1" />
<rect x="386.20" y="473.30" width="79.80" height="73.70" fill="#fff" stroke="none" stroke-width="1" />
<path d="M432.6,352.2 C438.5,352.2 442.3,356.5 442.3,362.5 C442.3,369 439.5,375.5 434.5,380.5 C431,384 427.5,385.5 425,384 C422.8,382.5 422.6,377 422.8,371 C423,365 423.2,361 424.5,357.5 C426,354 429,352.2 432.6,352.2 Z" fill="#cacaca" stroke="#b8b8b8" stroke-width="0.6"/>
<path d="M425.0,383.5 C426.0,378.0 431.0,373.0 436.5,369.5" fill="none" stroke="#e4e4e4" stroke-width="0.5"/>
<path d="M426.6,382.6 C428.0,377.0 432.6,372.4 437.4,369.2" fill="none" stroke="#e4e4e4" stroke-width="0.5"/>
<path d="M428.2,381.7 C430.0,376.0 434.2,371.8 438.3,368.9" fill="none" stroke="#e4e4e4" stroke-width="0.5"/>
<path d="M429.8,380.8 C432.0,375.0 435.8,371.2 439.2,368.6" fill="none" stroke="#e4e4e4" stroke-width="0.5"/>
<path d="M431.4,379.9 C434.0,374.0 437.4,370.6 440.1,368.3" fill="none" stroke="#e4e4e4" stroke-width="0.5"/>
<circle cx="432.6" cy="361.9" r="8.4" fill="#a6a6a6"/>
<circle cx="432.6" cy="361.9" r="7.6" fill="none" stroke="#858585" stroke-width="1.8" opacity="0.8"/>
<circle cx="432.9" cy="361.9" r="5.6" fill="url(#blobTop)"/>
<path d="M423.3,392.9 C423.6,388.6 427.6,386.1 432.6,386.1 C437.6,386.1 441.6,388.6 441.9,392.9 Z" fill="url(#blobBot1)"/>
<rect x="426.2" y="431.0" width="0.9" height="0.9" fill="#777" opacity="0.54"/>
<rect x="422.2" y="436.7" width="0.9" height="0.9" fill="#777" opacity="0.41"/>
<rect x="421.9" y="436.3" width="0.9" height="0.9" fill="#777" opacity="0.27"/>
<rect x="427.9" y="429.3" width="0.9" height="0.9" fill="#777" opacity="0.29"/>
<rect x="427.8" y="440.1" width="0.9" height="0.9" fill="#777" opacity="0.31"/>
<rect x="424.6" y="437.8" width="0.9" height="0.9" fill="#777" opacity="0.68"/>
<rect x="430.2" y="434.9" width="0.9" height="0.9" fill="#777" opacity="0.69"/>
<rect x="421.7" y="440.5" width="0.9" height="0.9" fill="#777" opacity="0.38"/>
<rect x="423.3" y="430.4" width="0.9" height="0.9" fill="#777" opacity="0.39"/>
<rect x="434.1" y="431.5" width="0.9" height="0.9" fill="#777" opacity="0.51"/>
<rect x="431.2" y="434.5" width="0.9" height="0.9" fill="#777" opacity="0.50"/>
<rect x="422.0" y="429.1" width="0.9" height="0.9" fill="#777" opacity="0.34"/>
<rect x="431.9" y="435.3" width="0.9" height="0.9" fill="#777" opacity="0.39"/>
<rect x="430.4" y="435.6" width="0.9" height="0.9" fill="#777" opacity="0.38"/>
<rect x="433.7" y="438.7" width="0.9" height="0.9" fill="#777" opacity="0.36"/>
<rect x="430.2" y="436.6" width="0.9" height="0.9" fill="#777" opacity="0.64"/>
<rect x="432.7" y="433.3" width="0.9" height="0.9" fill="#777" opacity="0.69"/>
<rect x="422.9" y="435.1" width="0.9" height="0.9" fill="#777" opacity="0.59"/>
<rect x="423.4" y="436.1" width="0.9" height="0.9" fill="#777" opacity="0.27"/>
<rect x="431.7" y="439.4" width="0.9" height="0.9" fill="#777" opacity="0.51"/>
<rect x="435.0" y="433.7" width="0.9" height="0.9" fill="#777" opacity="0.56"/>
<rect x="430.5" y="437.2" width="0.9" height="0.9" fill="#777" opacity="0.46"/>
<rect x="434.4" y="441.4" width="0.9" height="0.9" fill="#777" opacity="0.46"/>
<rect x="431.6" y="429.1" width="0.9" height="0.9" fill="#777" opacity="0.57"/>
<rect x="431.4" y="441.9" width="0.9" height="0.9" fill="#777" opacity="0.62"/>
<rect x="425.6" y="434.7" width="0.9" height="0.9" fill="#777" opacity="0.55"/>
<rect x="421.4" y="435.7" width="0.9" height="0.9" fill="#777" opacity="0.33"/>
<rect x="422.9" y="429.1" width="0.9" height="0.9" fill="#777" opacity="0.60"/>
<rect x="423.1" y="432.6" width="0.9" height="0.9" fill="#777" opacity="0.43"/>
<rect x="434.9" y="429.6" width="0.9" height="0.9" fill="#777" opacity="0.45"/>
<rect x="429.8" y="440.8" width="0.9" height="0.9" fill="#777" opacity="0.62"/>
<rect x="434.8" y="433.1" width="0.9" height="0.9" fill="#777" opacity="0.44"/>
<rect x="426.7" y="440.8" width="0.9" height="0.9" fill="#777" opacity="0.68"/>
<rect x="423.4" y="431.4" width="0.9" height="0.9" fill="#777" opacity="0.35"/>
<rect x="424.7" y="436.0" width="0.9" height="0.9" fill="#777" opacity="0.52"/>
<rect x="425.2" y="427.3" width="0.9" height="0.9" fill="#777" opacity="0.44"/>
<rect x="426.9" y="437.1" width="0.9" height="0.9" fill="#777" opacity="0.68"/>
<rect x="432.0" y="436.4" width="0.9" height="0.9" fill="#777" opacity="0.53"/>
<rect x="431.8" y="428.9" width="0.9" height="0.9" fill="#777" opacity="0.65"/>
<rect x="433.5" y="440.7" width="0.9" height="0.9" fill="#777" opacity="0.61"/>
<rect x="427.3" y="434.9" width="0.9" height="0.9" fill="#777" opacity="0.30"/>
<rect x="431.1" y="429.1" width="0.9" height="0.9" fill="#777" opacity="0.28"/>
<rect x="424.3" y="431.2" width="0.9" height="0.9" fill="#777" opacity="0.40"/>
<rect x="421.8" y="427.0" width="0.9" height="0.9" fill="#777" opacity="0.32"/>
<rect x="422.6" y="434.4" width="0.9" height="0.9" fill="#777" opacity="0.26"/>
<ellipse cx="428.8" cy="453.4" rx="8.9" ry="11.8" fill="url(#blobMid)"/>
<ellipse cx="428.3" cy="451.5" rx="3.0" ry="4.0" fill="none" stroke="#9a9a9a" stroke-width="0.45" opacity="0.8"/>
<ellipse cx="428.3" cy="452.1" rx="4.6" ry="6.2" fill="none" stroke="#9a9a9a" stroke-width="0.45" opacity="0.8"/>
<ellipse cx="428.3" cy="452.7" rx="6.2" ry="8.4" fill="none" stroke="#9a9a9a" stroke-width="0.45" opacity="0.8"/>
<ellipse cx="428.3" cy="453.3" rx="7.8" ry="10.6" fill="none" stroke="#9a9a9a" stroke-width="0.45" opacity="0.8"/>
<path d="M420,469.9 C420.5,467 423.5,465.6 428.3,465.6 C433.1,465.6 436.1,467 436.6,469.9 Z" fill="url(#blobBot2)"/>
<rect x="438.9" y="513.5" width="0.9" height="0.9" fill="#777" opacity="0.32"/>
<rect x="428.3" y="508.6" width="0.9" height="0.9" fill="#777" opacity="0.43"/>
<rect x="426.1" y="517.5" width="0.9" height="0.9" fill="#777" opacity="0.75"/>
<rect x="431.9" y="511.2" width="0.9" height="0.9" fill="#777" opacity="0.29"/>
<rect x="425.7" y="508.5" width="0.9" height="0.9" fill="#777" opacity="0.38"/>
<rect x="438.1" y="504.6" width="0.9" height="0.9" fill="#777" opacity="0.26"/>
<rect x="440.2" y="512.0" width="0.9" height="0.9" fill="#777" opacity="0.32"/>
<rect x="433.2" y="501.1" width="0.9" height="0.9" fill="#777" opacity="0.51"/>
<rect x="440.6" y="517.8" width="0.9" height="0.9" fill="#777" opacity="0.60"/>
<rect x="428.4" y="509.0" width="0.9" height="0.9" fill="#777" opacity="0.33"/>
<rect x="437.1" y="512.1" width="0.9" height="0.9" fill="#777" opacity="0.64"/>
<rect x="429.6" y="506.0" width="0.9" height="0.9" fill="#777" opacity="0.66"/>
<rect x="440.7" y="517.6" width="0.9" height="0.9" fill="#777" opacity="0.65"/>
<rect x="437.9" y="515.7" width="0.9" height="0.9" fill="#777" opacity="0.36"/>
<rect x="432.8" y="508.7" width="0.9" height="0.9" fill="#777" opacity="0.26"/>
<rect x="424.5" y="507.2" width="0.9" height="0.9" fill="#777" opacity="0.38"/>
<rect x="435.8" y="519.3" width="0.9" height="0.9" fill="#777" opacity="0.47"/>
<rect x="439.9" y="519.8" width="0.9" height="0.9" fill="#777" opacity="0.73"/>
<rect x="430.2" y="506.0" width="0.9" height="0.9" fill="#777" opacity="0.36"/>
<rect x="427.3" y="505.6" width="0.9" height="0.9" fill="#777" opacity="0.56"/>
<rect x="439.3" y="517.4" width="0.9" height="0.9" fill="#777" opacity="0.49"/>
<rect x="435.1" y="516.7" width="0.9" height="0.9" fill="#777" opacity="0.29"/>
<rect x="435.2" y="518.5" width="0.9" height="0.9" fill="#777" opacity="0.64"/>
<rect x="436.8" y="511.1" width="0.9" height="0.9" fill="#777" opacity="0.34"/>
<rect x="437.4" y="508.3" width="0.9" height="0.9" fill="#777" opacity="0.65"/>
<rect x="440.5" y="509.5" width="0.9" height="0.9" fill="#777" opacity="0.45"/>
<rect x="440.1" y="515.5" width="0.9" height="0.9" fill="#777" opacity="0.34"/>
<rect x="426.2" y="504.4" width="0.9" height="0.9" fill="#777" opacity="0.70"/>
<rect x="437.7" y="504.3" width="0.9" height="0.9" fill="#777" opacity="0.66"/>
<rect x="440.7" y="514.3" width="0.9" height="0.9" fill="#777" opacity="0.43"/>
<rect x="433.3" y="503.9" width="0.9" height="0.9" fill="#777" opacity="0.26"/>
<rect x="440.5" y="514.2" width="0.9" height="0.9" fill="#777" opacity="0.51"/>
<rect x="439.9" y="510.3" width="0.9" height="0.9" fill="#777" opacity="0.69"/>
<rect x="438.0" y="505.8" width="0.9" height="0.9" fill="#777" opacity="0.38"/>
<rect x="429.0" y="506.4" width="0.9" height="0.9" fill="#777" opacity="0.54"/>
<rect x="428.4" y="510.0" width="0.9" height="0.9" fill="#777" opacity="0.32"/>
<rect x="439.5" y="508.7" width="0.9" height="0.9" fill="#777" opacity="0.48"/>
<rect x="433.9" y="518.5" width="0.9" height="0.9" fill="#777" opacity="0.46"/>
<rect x="439.6" y="511.5" width="0.9" height="0.9" fill="#777" opacity="0.52"/>
<rect x="432.9" y="500.8" width="0.9" height="0.9" fill="#777" opacity="0.47"/>
<rect x="427.1" y="500.2" width="0.9" height="0.9" fill="#777" opacity="0.65"/>
<rect x="426.9" y="511.0" width="0.9" height="0.9" fill="#777" opacity="0.61"/>
<rect x="433.5" y="508.2" width="0.9" height="0.9" fill="#777" opacity="0.51"/>
<rect x="433.4" y="516.5" width="0.9" height="0.9" fill="#777" opacity="0.30"/>
<rect x="433.5" y="506.6" width="0.9" height="0.9" fill="#777" opacity="0.39"/>
<rect x="437.1" y="511.6" width="0.9" height="0.9" fill="#777" opacity="0.53"/>
<rect x="436.9" y="518.6" width="0.9" height="0.9" fill="#777" opacity="0.47"/>
<rect x="434.4" y="511.6" width="0.9" height="0.9" fill="#777" opacity="0.51"/>
<rect x="435.8" y="510.6" width="0.9" height="0.9" fill="#777" opacity="0.52"/>
<rect x="432.1" y="519.1" width="0.9" height="0.9" fill="#777" opacity="0.60"/>
<rect x="438.9" y="519.1" width="0.9" height="0.9" fill="#777" opacity="0.38"/>
<rect x="433.5" y="519.1" width="0.9" height="0.9" fill="#777" opacity="0.67"/>
<rect x="426.3" y="503.7" width="0.9" height="0.9" fill="#777" opacity="0.47"/>
<rect x="425.2" y="506.4" width="0.9" height="0.9" fill="#777" opacity="0.29"/>
<rect x="435.4" y="516.5" width="0.9" height="0.9" fill="#777" opacity="0.70"/>
<rect x="426.6" y="515.3" width="0.9" height="0.9" fill="#777" opacity="0.58"/>
<rect x="426.4" y="518.1" width="0.9" height="0.9" fill="#777" opacity="0.73"/>
<rect x="427.7" y="519.2" width="0.9" height="0.9" fill="#777" opacity="0.45"/>
<rect x="432.3" y="519.8" width="0.9" height="0.9" fill="#777" opacity="0.67"/>
<rect x="426.7" y="510.2" width="0.9" height="0.9" fill="#777" opacity="0.51"/>
<rect x="429.8" y="505.4" width="0.9" height="0.9" fill="#777" opacity="0.41"/>
<rect x="436.3" y="500.9" width="0.9" height="0.9" fill="#777" opacity="0.53"/>
<rect x="431.5" y="500.8" width="0.9" height="0.9" fill="#777" opacity="0.42"/>
<rect x="434.6" y="511.7" width="0.9" height="0.9" fill="#777" opacity="0.28"/>
<rect x="440.7" y="516.5" width="0.9" height="0.9" fill="#777" opacity="0.74"/>
<rect x="425.8" y="506.9" width="0.9" height="0.9" fill="#777" opacity="0.27"/>
<rect x="437.2" y="507.0" width="0.9" height="0.9" fill="#777" opacity="0.31"/>
<rect x="431.2" y="518.6" width="0.9" height="0.9" fill="#777" opacity="0.66"/>
<rect x="428.4" y="504.4" width="0.9" height="0.9" fill="#777" opacity="0.71"/>
<rect x="433.7" y="515.0" width="0.9" height="0.9" fill="#777" opacity="0.29"/>
<ellipse cx="432.7" cy="532.2" rx="9.5" ry="11.2" fill="url(#blobMid)"/>
<path d="M426,522 C427,518.6 438,518.6 439.5,522 Z" fill="#c8c8c8"/>
<ellipse cx="432.5" cy="533.0" rx="2.5" ry="3.5" fill="none" stroke="#9c9c9c" stroke-width="0.45" opacity="0.8"/>
<ellipse cx="432.5" cy="533.5" rx="4.0" ry="5.3" fill="none" stroke="#9c9c9c" stroke-width="0.45" opacity="0.8"/>
<ellipse cx="432.5" cy="534.0" rx="5.5" ry="7.1" fill="none" stroke="#9c9c9c" stroke-width="0.45" opacity="0.8"/>
<ellipse cx="432.5" cy="534.5" rx="7.0" ry="8.9" fill="none" stroke="#9c9c9c" stroke-width="0.45" opacity="0.8"/>
<ellipse cx="432.5" cy="535.0" rx="8.5" ry="10.7" fill="none" stroke="#9c9c9c" stroke-width="0.45" opacity="0.8"/>
<path d="M422.9,547 C423.4,545 427.8,544 433.2,544 C438.6,544 443.1,545 443.6,547 Z" fill="url(#blobBot2)"/>
<line x1="421.70" y1="318.30" x2="421.70" y2="393.00" stroke="#444" stroke-width="1" />
<line x1="386.90" y1="368.70" x2="466.90" y2="368.70" stroke="#444" stroke-width="1" />
<line x1="386.90" y1="318.30" x2="466.90" y2="318.30" stroke="#9a9a9a" stroke-width="1" />
<line x1="466.90" y1="318.30" x2="466.90" y2="393.00" stroke="#a5a5a5" stroke-width="1" />
<line x1="386.90" y1="318.30" x2="386.90" y2="393.00" stroke="#c8c8c8" stroke-width="1" />
<line x1="386.90" y1="393.00" x2="466.90" y2="393.00" stroke="#c4c4c4" stroke-width="1" />
<text x="460.90" y="334.70" font-size="13.8"   text-anchor="end" fill="#000" >62.5</text>
<line x1="384.90" y1="324.20" x2="386.90" y2="324.20" stroke="#555" stroke-width="0.9" />
<line x1="384.90" y1="339.30" x2="386.90" y2="339.30" stroke="#555" stroke-width="0.9" />
<line x1="384.90" y1="354.40" x2="386.90" y2="354.40" stroke="#555" stroke-width="0.9" />
<line x1="384.90" y1="369.50" x2="386.90" y2="369.50" stroke="#555" stroke-width="0.9" />
<line x1="384.90" y1="384.60" x2="386.90" y2="384.60" stroke="#555" stroke-width="0.9" />
<line x1="386.10" y1="320.30" x2="386.90" y2="320.30" stroke="#999" stroke-width="0.6" />
<line x1="386.10" y1="323.30" x2="386.90" y2="323.30" stroke="#999" stroke-width="0.6" />
<line x1="386.10" y1="326.30" x2="386.90" y2="326.30" stroke="#999" stroke-width="0.6" />
<line x1="386.10" y1="329.30" x2="386.90" y2="329.30" stroke="#999" stroke-width="0.6" />
<line x1="386.10" y1="332.30" x2="386.90" y2="332.30" stroke="#999" stroke-width="0.6" />
<line x1="386.10" y1="335.30" x2="386.90" y2="335.30" stroke="#999" stroke-width="0.6" />
<line x1="386.10" y1="338.30" x2="386.90" y2="338.30" stroke="#999" stroke-width="0.6" />
<line x1="386.10" y1="341.30" x2="386.90" y2="341.30" stroke="#999" stroke-width="0.6" />
<line x1="386.10" y1="344.30" x2="386.90" y2="344.30" stroke="#999" stroke-width="0.6" />
<line x1="386.10" y1="347.30" x2="386.90" y2="347.30" stroke="#999" stroke-width="0.6" />
<line x1="386.10" y1="350.30" x2="386.90" y2="350.30" stroke="#999" stroke-width="0.6" />
<line x1="386.10" y1="353.30" x2="386.90" y2="353.30" stroke="#999" stroke-width="0.6" />
<line x1="386.10" y1="356.30" x2="386.90" y2="356.30" stroke="#999" stroke-width="0.6" />
<line x1="386.10" y1="359.30" x2="386.90" y2="359.30" stroke="#999" stroke-width="0.6" />
<line x1="386.10" y1="362.30" x2="386.90" y2="362.30" stroke="#999" stroke-width="0.6" />
<line x1="386.10" y1="365.30" x2="386.90" y2="365.30" stroke="#999" stroke-width="0.6" />
<line x1="386.10" y1="368.30" x2="386.90" y2="368.30" stroke="#999" stroke-width="0.6" />
<line x1="386.10" y1="371.30" x2="386.90" y2="371.30" stroke="#999" stroke-width="0.6" />
<line x1="386.10" y1="374.30" x2="386.90" y2="374.30" stroke="#999" stroke-width="0.6" />
<line x1="386.10" y1="377.30" x2="386.90" y2="377.30" stroke="#999" stroke-width="0.6" />
<line x1="386.10" y1="380.30" x2="386.90" y2="380.30" stroke="#999" stroke-width="0.6" />
<line x1="386.10" y1="383.30" x2="386.90" y2="383.30" stroke="#999" stroke-width="0.6" />
<line x1="386.10" y1="386.30" x2="386.90" y2="386.30" stroke="#999" stroke-width="0.6" />
<line x1="386.10" y1="389.30" x2="386.90" y2="389.30" stroke="#999" stroke-width="0.6" />
<line x1="388.40" y1="393.30" x2="388.40" y2="394.40" stroke="#999" stroke-width="0.6" />
<line x1="391.45" y1="393.30" x2="391.45" y2="394.40" stroke="#999" stroke-width="0.6" />
<line x1="394.50" y1="393.30" x2="394.50" y2="394.40" stroke="#999" stroke-width="0.6" />
<line x1="397.55" y1="393.30" x2="397.55" y2="394.40" stroke="#999" stroke-width="0.6" />
<line x1="400.60" y1="393.30" x2="400.60" y2="394.40" stroke="#999" stroke-width="0.6" />
<line x1="403.65" y1="393.30" x2="403.65" y2="394.40" stroke="#999" stroke-width="0.6" />
<line x1="406.70" y1="393.30" x2="406.70" y2="394.40" stroke="#999" stroke-width="0.6" />
<line x1="409.75" y1="393.30" x2="409.75" y2="394.40" stroke="#999" stroke-width="0.6" />
<line x1="412.80" y1="393.30" x2="412.80" y2="394.40" stroke="#999" stroke-width="0.6" />
<line x1="415.85" y1="393.30" x2="415.85" y2="394.40" stroke="#999" stroke-width="0.6" />
<line x1="418.90" y1="393.30" x2="418.90" y2="394.40" stroke="#999" stroke-width="0.6" />
<line x1="421.95" y1="393.30" x2="421.95" y2="394.40" stroke="#999" stroke-width="0.6" />
<line x1="425.00" y1="393.30" x2="425.00" y2="394.40" stroke="#999" stroke-width="0.6" />
<line x1="428.05" y1="393.30" x2="428.05" y2="394.40" stroke="#999" stroke-width="0.6" />
<line x1="431.10" y1="393.30" x2="431.10" y2="394.40" stroke="#999" stroke-width="0.6" />
<line x1="434.15" y1="393.30" x2="434.15" y2="394.40" stroke="#999" stroke-width="0.6" />
<line x1="437.20" y1="393.30" x2="437.20" y2="394.40" stroke="#999" stroke-width="0.6" />
<line x1="440.25" y1="393.30" x2="440.25" y2="394.40" stroke="#999" stroke-width="0.6" />
<line x1="443.30" y1="393.30" x2="443.30" y2="394.40" stroke="#999" stroke-width="0.6" />
<line x1="446.35" y1="393.30" x2="446.35" y2="394.40" stroke="#999" stroke-width="0.6" />
<line x1="449.40" y1="393.30" x2="449.40" y2="394.40" stroke="#999" stroke-width="0.6" />
<line x1="452.45" y1="393.30" x2="452.45" y2="394.40" stroke="#999" stroke-width="0.6" />
<line x1="455.50" y1="393.30" x2="455.50" y2="394.40" stroke="#999" stroke-width="0.6" />
<line x1="458.55" y1="393.30" x2="458.55" y2="394.40" stroke="#999" stroke-width="0.6" />
<line x1="461.60" y1="393.30" x2="461.60" y2="394.40" stroke="#999" stroke-width="0.6" />
<line x1="464.65" y1="393.30" x2="464.65" y2="394.40" stroke="#999" stroke-width="0.6" />
<line x1="392.40" y1="393.00" x2="392.40" y2="394.80" stroke="#555" stroke-width="0.9" />
<line x1="404.90" y1="393.00" x2="404.90" y2="394.80" stroke="#555" stroke-width="0.9" />
<line x1="416.90" y1="393.00" x2="416.90" y2="394.80" stroke="#555" stroke-width="0.9" />
<line x1="429.90" y1="393.00" x2="429.90" y2="394.80" stroke="#555" stroke-width="0.9" />
<line x1="443.90" y1="393.00" x2="443.90" y2="394.80" stroke="#555" stroke-width="0.9" />
<line x1="456.90" y1="393.00" x2="456.90" y2="394.80" stroke="#555" stroke-width="0.9" />
<rect x="406.50" y="393.40" width="2.20" height="1.60" fill="#111" stroke="none" stroke-width="1" />
<line x1="417.50" y1="395.20" x2="417.50" y2="469.90" stroke="#444" stroke-width="1" />
<line x1="386.50" y1="445.60" x2="466.30" y2="445.60" stroke="#444" stroke-width="1" />
<line x1="386.50" y1="395.20" x2="466.30" y2="395.20" stroke="#9a9a9a" stroke-width="1" />
<line x1="466.30" y1="395.20" x2="466.30" y2="469.90" stroke="#a5a5a5" stroke-width="1" />
<line x1="386.50" y1="395.20" x2="386.50" y2="469.90" stroke="#c8c8c8" stroke-width="1" />
<line x1="386.50" y1="469.90" x2="466.30" y2="469.90" stroke="#c4c4c4" stroke-width="1" />
<text x="463.80" y="409.00" font-size="14.2"   text-anchor="end" fill="#000" >9.15</text>
<line x1="384.50" y1="401.10" x2="386.50" y2="401.10" stroke="#555" stroke-width="0.9" />
<line x1="384.50" y1="416.20" x2="386.50" y2="416.20" stroke="#555" stroke-width="0.9" />
<line x1="384.50" y1="431.30" x2="386.50" y2="431.30" stroke="#555" stroke-width="0.9" />
<line x1="384.50" y1="446.40" x2="386.50" y2="446.40" stroke="#555" stroke-width="0.9" />
<line x1="384.50" y1="461.50" x2="386.50" y2="461.50" stroke="#555" stroke-width="0.9" />
<line x1="385.70" y1="397.20" x2="386.50" y2="397.20" stroke="#999" stroke-width="0.6" />
<line x1="385.70" y1="400.20" x2="386.50" y2="400.20" stroke="#999" stroke-width="0.6" />
<line x1="385.70" y1="403.20" x2="386.50" y2="403.20" stroke="#999" stroke-width="0.6" />
<line x1="385.70" y1="406.20" x2="386.50" y2="406.20" stroke="#999" stroke-width="0.6" />
<line x1="385.70" y1="409.20" x2="386.50" y2="409.20" stroke="#999" stroke-width="0.6" />
<line x1="385.70" y1="412.20" x2="386.50" y2="412.20" stroke="#999" stroke-width="0.6" />
<line x1="385.70" y1="415.20" x2="386.50" y2="415.20" stroke="#999" stroke-width="0.6" />
<line x1="385.70" y1="418.20" x2="386.50" y2="418.20" stroke="#999" stroke-width="0.6" />
<line x1="385.70" y1="421.20" x2="386.50" y2="421.20" stroke="#999" stroke-width="0.6" />
<line x1="385.70" y1="424.20" x2="386.50" y2="424.20" stroke="#999" stroke-width="0.6" />
<line x1="385.70" y1="427.20" x2="386.50" y2="427.20" stroke="#999" stroke-width="0.6" />
<line x1="385.70" y1="430.20" x2="386.50" y2="430.20" stroke="#999" stroke-width="0.6" />
<line x1="385.70" y1="433.20" x2="386.50" y2="433.20" stroke="#999" stroke-width="0.6" />
<line x1="385.70" y1="436.20" x2="386.50" y2="436.20" stroke="#999" stroke-width="0.6" />
<line x1="385.70" y1="439.20" x2="386.50" y2="439.20" stroke="#999" stroke-width="0.6" />
<line x1="385.70" y1="442.20" x2="386.50" y2="442.20" stroke="#999" stroke-width="0.6" />
<line x1="385.70" y1="445.20" x2="386.50" y2="445.20" stroke="#999" stroke-width="0.6" />
<line x1="385.70" y1="448.20" x2="386.50" y2="448.20" stroke="#999" stroke-width="0.6" />
<line x1="385.70" y1="451.20" x2="386.50" y2="451.20" stroke="#999" stroke-width="0.6" />
<line x1="385.70" y1="454.20" x2="386.50" y2="454.20" stroke="#999" stroke-width="0.6" />
<line x1="385.70" y1="457.20" x2="386.50" y2="457.20" stroke="#999" stroke-width="0.6" />
<line x1="385.70" y1="460.20" x2="386.50" y2="460.20" stroke="#999" stroke-width="0.6" />
<line x1="385.70" y1="463.20" x2="386.50" y2="463.20" stroke="#999" stroke-width="0.6" />
<line x1="385.70" y1="466.20" x2="386.50" y2="466.20" stroke="#999" stroke-width="0.6" />
<line x1="388.00" y1="470.20" x2="388.00" y2="471.30" stroke="#999" stroke-width="0.6" />
<line x1="391.05" y1="470.20" x2="391.05" y2="471.30" stroke="#999" stroke-width="0.6" />
<line x1="394.10" y1="470.20" x2="394.10" y2="471.30" stroke="#999" stroke-width="0.6" />
<line x1="397.15" y1="470.20" x2="397.15" y2="471.30" stroke="#999" stroke-width="0.6" />
<line x1="400.20" y1="470.20" x2="400.20" y2="471.30" stroke="#999" stroke-width="0.6" />
<line x1="403.25" y1="470.20" x2="403.25" y2="471.30" stroke="#999" stroke-width="0.6" />
<line x1="406.30" y1="470.20" x2="406.30" y2="471.30" stroke="#999" stroke-width="0.6" />
<line x1="409.35" y1="470.20" x2="409.35" y2="471.30" stroke="#999" stroke-width="0.6" />
<line x1="412.40" y1="470.20" x2="412.40" y2="471.30" stroke="#999" stroke-width="0.6" />
<line x1="415.45" y1="470.20" x2="415.45" y2="471.30" stroke="#999" stroke-width="0.6" />
<line x1="418.50" y1="470.20" x2="418.50" y2="471.30" stroke="#999" stroke-width="0.6" />
<line x1="421.55" y1="470.20" x2="421.55" y2="471.30" stroke="#999" stroke-width="0.6" />
<line x1="424.60" y1="470.20" x2="424.60" y2="471.30" stroke="#999" stroke-width="0.6" />
<line x1="427.65" y1="470.20" x2="427.65" y2="471.30" stroke="#999" stroke-width="0.6" />
<line x1="430.70" y1="470.20" x2="430.70" y2="471.30" stroke="#999" stroke-width="0.6" />
<line x1="433.75" y1="470.20" x2="433.75" y2="471.30" stroke="#999" stroke-width="0.6" />
<line x1="436.80" y1="470.20" x2="436.80" y2="471.30" stroke="#999" stroke-width="0.6" />
<line x1="439.85" y1="470.20" x2="439.85" y2="471.30" stroke="#999" stroke-width="0.6" />
<line x1="442.90" y1="470.20" x2="442.90" y2="471.30" stroke="#999" stroke-width="0.6" />
<line x1="445.95" y1="470.20" x2="445.95" y2="471.30" stroke="#999" stroke-width="0.6" />
<line x1="449.00" y1="470.20" x2="449.00" y2="471.30" stroke="#999" stroke-width="0.6" />
<line x1="452.05" y1="470.20" x2="452.05" y2="471.30" stroke="#999" stroke-width="0.6" />
<line x1="455.10" y1="470.20" x2="455.10" y2="471.30" stroke="#999" stroke-width="0.6" />
<line x1="458.15" y1="470.20" x2="458.15" y2="471.30" stroke="#999" stroke-width="0.6" />
<line x1="461.20" y1="470.20" x2="461.20" y2="471.30" stroke="#999" stroke-width="0.6" />
<line x1="464.25" y1="470.20" x2="464.25" y2="471.30" stroke="#999" stroke-width="0.6" />
<line x1="392.00" y1="469.90" x2="392.00" y2="471.70" stroke="#555" stroke-width="0.9" />
<line x1="404.50" y1="469.90" x2="404.50" y2="471.70" stroke="#555" stroke-width="0.9" />
<line x1="416.50" y1="469.90" x2="416.50" y2="471.70" stroke="#555" stroke-width="0.9" />
<line x1="429.50" y1="469.90" x2="429.50" y2="471.70" stroke="#555" stroke-width="0.9" />
<line x1="443.50" y1="469.90" x2="443.50" y2="471.70" stroke="#555" stroke-width="0.9" />
<line x1="456.50" y1="469.90" x2="456.50" y2="471.70" stroke="#555" stroke-width="0.9" />
<rect x="406.10" y="470.30" width="2.20" height="1.60" fill="#111" stroke="none" stroke-width="1" />
<line x1="418.50" y1="473.30" x2="418.50" y2="547.00" stroke="#444" stroke-width="1" />
<line x1="386.20" y1="522.30" x2="466.00" y2="522.30" stroke="#444" stroke-width="1" />
<line x1="386.20" y1="473.30" x2="466.00" y2="473.30" stroke="#9a9a9a" stroke-width="1" />
<line x1="466.00" y1="473.30" x2="466.00" y2="547.00" stroke="#a5a5a5" stroke-width="1" />
<line x1="386.20" y1="473.30" x2="386.20" y2="547.00" stroke="#c8c8c8" stroke-width="1" />
<line x1="386.20" y1="547.00" x2="466.00" y2="547.00" stroke="#c4c4c4" stroke-width="1" />
<text x="462.30" y="487.70" font-size="14.8"   text-anchor="end" fill="#000" >6.56</text>
<line x1="384.20" y1="479.20" x2="386.20" y2="479.20" stroke="#555" stroke-width="0.9" />
<line x1="384.20" y1="494.30" x2="386.20" y2="494.30" stroke="#555" stroke-width="0.9" />
<line x1="384.20" y1="509.40" x2="386.20" y2="509.40" stroke="#555" stroke-width="0.9" />
<line x1="384.20" y1="524.50" x2="386.20" y2="524.50" stroke="#555" stroke-width="0.9" />
<line x1="384.20" y1="539.60" x2="386.20" y2="539.60" stroke="#555" stroke-width="0.9" />
<line x1="385.40" y1="475.30" x2="386.20" y2="475.30" stroke="#999" stroke-width="0.6" />
<line x1="385.40" y1="478.30" x2="386.20" y2="478.30" stroke="#999" stroke-width="0.6" />
<line x1="385.40" y1="481.30" x2="386.20" y2="481.30" stroke="#999" stroke-width="0.6" />
<line x1="385.40" y1="484.30" x2="386.20" y2="484.30" stroke="#999" stroke-width="0.6" />
<line x1="385.40" y1="487.30" x2="386.20" y2="487.30" stroke="#999" stroke-width="0.6" />
<line x1="385.40" y1="490.30" x2="386.20" y2="490.30" stroke="#999" stroke-width="0.6" />
<line x1="385.40" y1="493.30" x2="386.20" y2="493.30" stroke="#999" stroke-width="0.6" />
<line x1="385.40" y1="496.30" x2="386.20" y2="496.30" stroke="#999" stroke-width="0.6" />
<line x1="385.40" y1="499.30" x2="386.20" y2="499.30" stroke="#999" stroke-width="0.6" />
<line x1="385.40" y1="502.30" x2="386.20" y2="502.30" stroke="#999" stroke-width="0.6" />
<line x1="385.40" y1="505.30" x2="386.20" y2="505.30" stroke="#999" stroke-width="0.6" />
<line x1="385.40" y1="508.30" x2="386.20" y2="508.30" stroke="#999" stroke-width="0.6" />
<line x1="385.40" y1="511.30" x2="386.20" y2="511.30" stroke="#999" stroke-width="0.6" />
<line x1="385.40" y1="514.30" x2="386.20" y2="514.30" stroke="#999" stroke-width="0.6" />
<line x1="385.40" y1="517.30" x2="386.20" y2="517.30" stroke="#999" stroke-width="0.6" />
<line x1="385.40" y1="520.30" x2="386.20" y2="520.30" stroke="#999" stroke-width="0.6" />
<line x1="385.40" y1="523.30" x2="386.20" y2="523.30" stroke="#999" stroke-width="0.6" />
<line x1="385.40" y1="526.30" x2="386.20" y2="526.30" stroke="#999" stroke-width="0.6" />
<line x1="385.40" y1="529.30" x2="386.20" y2="529.30" stroke="#999" stroke-width="0.6" />
<line x1="385.40" y1="532.30" x2="386.20" y2="532.30" stroke="#999" stroke-width="0.6" />
<line x1="385.40" y1="535.30" x2="386.20" y2="535.30" stroke="#999" stroke-width="0.6" />
<line x1="385.40" y1="538.30" x2="386.20" y2="538.30" stroke="#999" stroke-width="0.6" />
<line x1="385.40" y1="541.30" x2="386.20" y2="541.30" stroke="#999" stroke-width="0.6" />
<line x1="385.40" y1="544.30" x2="386.20" y2="544.30" stroke="#999" stroke-width="0.6" />
<line x1="387.70" y1="547.30" x2="387.70" y2="548.40" stroke="#999" stroke-width="0.6" />
<line x1="390.75" y1="547.30" x2="390.75" y2="548.40" stroke="#999" stroke-width="0.6" />
<line x1="393.80" y1="547.30" x2="393.80" y2="548.40" stroke="#999" stroke-width="0.6" />
<line x1="396.85" y1="547.30" x2="396.85" y2="548.40" stroke="#999" stroke-width="0.6" />
<line x1="399.90" y1="547.30" x2="399.90" y2="548.40" stroke="#999" stroke-width="0.6" />
<line x1="402.95" y1="547.30" x2="402.95" y2="548.40" stroke="#999" stroke-width="0.6" />
<line x1="406.00" y1="547.30" x2="406.00" y2="548.40" stroke="#999" stroke-width="0.6" />
<line x1="409.05" y1="547.30" x2="409.05" y2="548.40" stroke="#999" stroke-width="0.6" />
<line x1="412.10" y1="547.30" x2="412.10" y2="548.40" stroke="#999" stroke-width="0.6" />
<line x1="415.15" y1="547.30" x2="415.15" y2="548.40" stroke="#999" stroke-width="0.6" />
<line x1="418.20" y1="547.30" x2="418.20" y2="548.40" stroke="#999" stroke-width="0.6" />
<line x1="421.25" y1="547.30" x2="421.25" y2="548.40" stroke="#999" stroke-width="0.6" />
<line x1="424.30" y1="547.30" x2="424.30" y2="548.40" stroke="#999" stroke-width="0.6" />
<line x1="427.35" y1="547.30" x2="427.35" y2="548.40" stroke="#999" stroke-width="0.6" />
<line x1="430.40" y1="547.30" x2="430.40" y2="548.40" stroke="#999" stroke-width="0.6" />
<line x1="433.45" y1="547.30" x2="433.45" y2="548.40" stroke="#999" stroke-width="0.6" />
<line x1="436.50" y1="547.30" x2="436.50" y2="548.40" stroke="#999" stroke-width="0.6" />
<line x1="439.55" y1="547.30" x2="439.55" y2="548.40" stroke="#999" stroke-width="0.6" />
<line x1="442.60" y1="547.30" x2="442.60" y2="548.40" stroke="#999" stroke-width="0.6" />
<line x1="445.65" y1="547.30" x2="445.65" y2="548.40" stroke="#999" stroke-width="0.6" />
<line x1="448.70" y1="547.30" x2="448.70" y2="548.40" stroke="#999" stroke-width="0.6" />
<line x1="451.75" y1="547.30" x2="451.75" y2="548.40" stroke="#999" stroke-width="0.6" />
<line x1="454.80" y1="547.30" x2="454.80" y2="548.40" stroke="#999" stroke-width="0.6" />
<line x1="457.85" y1="547.30" x2="457.85" y2="548.40" stroke="#999" stroke-width="0.6" />
<line x1="460.90" y1="547.30" x2="460.90" y2="548.40" stroke="#999" stroke-width="0.6" />
<line x1="463.95" y1="547.30" x2="463.95" y2="548.40" stroke="#999" stroke-width="0.6" />
<line x1="391.70" y1="547.00" x2="391.70" y2="548.80" stroke="#555" stroke-width="0.9" />
<line x1="404.20" y1="547.00" x2="404.20" y2="548.80" stroke="#555" stroke-width="0.9" />
<line x1="416.20" y1="547.00" x2="416.20" y2="548.80" stroke="#555" stroke-width="0.9" />
<line x1="429.20" y1="547.00" x2="429.20" y2="548.80" stroke="#555" stroke-width="0.9" />
<line x1="443.20" y1="547.00" x2="443.20" y2="548.80" stroke="#555" stroke-width="0.9" />
<line x1="456.20" y1="547.00" x2="456.20" y2="548.80" stroke="#555" stroke-width="0.9" />
<rect x="405.80" y="547.40" width="2.20" height="1.60" fill="#111" stroke="none" stroke-width="1" />
<line x1="375.40" y1="516.00" x2="375.40" y2="327.00" stroke="#000" stroke-width="1.3" />
<polygon points="375.4,322.2 372.6,331.3 375.4,329.4 378.2,331.3" fill="#000"/>
<polygon points="375.6,451.8 372.9,456.6 375.6,455.4 378.3,456.6" fill="#000"/>
<text transform="translate(363.20,359.50) rotate(-90)" font-size="15"   text-anchor="middle" fill="#000">Skin</text>
<text transform="translate(363.20,427.70) rotate(-90)" font-size="15"   text-anchor="middle" fill="#000">Lung</text>
<text transform="translate(363.40,511.80) rotate(-90)" font-size="14.2"   text-anchor="middle" fill="#000">SDLN</text>
<text transform="translate(379.4,535.6) rotate(-90) scale(0.87,1)" font-size="17.2" text-anchor="middle" fill="#000">Jag1</text>
<text x="380.30" y="565.00" font-size="16.2"   text-anchor="start" fill="#000" >Foxp3</text>
<line x1="428.00" y1="560.10" x2="465.00" y2="560.10" stroke="#000" stroke-width="1.3" />
<polygon points="470.9,560.1 462.3,557.0 464.6,560.1 462.3,563.2" fill="#000"/>
<text x="474.80" y="309.70" font-size="21" font-weight="bold" stroke="#000" stroke-width="0.22"  text-anchor="start" fill="#000" >E</text>
<line x1="531.20" y1="352.80" x2="531.20" y2="521.80" stroke="#000" stroke-width="2" />
<line x1="524.00" y1="520.80" x2="531.20" y2="520.80" stroke="#000" stroke-width="2" />
<text x="521.00" y="525.20" font-size="12.3" font-weight="bold" stroke="#000" stroke-width="0.22"  text-anchor="end" fill="#000" >0</text>
<line x1="524.00" y1="487.38" x2="531.20" y2="487.38" stroke="#000" stroke-width="2" />
<text x="521.00" y="491.78" font-size="12.3" font-weight="bold" stroke="#000" stroke-width="0.22"  text-anchor="end" fill="#000" >20</text>
<line x1="524.00" y1="453.96" x2="531.20" y2="453.96" stroke="#000" stroke-width="2" />
<text x="521.00" y="458.36" font-size="12.3" font-weight="bold" stroke="#000" stroke-width="0.22"  text-anchor="end" fill="#000" >40</text>
<line x1="524.00" y1="420.54" x2="531.20" y2="420.54" stroke="#000" stroke-width="2" />
<text x="521.00" y="424.94" font-size="12.3" font-weight="bold" stroke="#000" stroke-width="0.22"  text-anchor="end" fill="#000" >60</text>
<line x1="524.00" y1="387.12" x2="531.20" y2="387.12" stroke="#000" stroke-width="2" />
<text x="521.00" y="391.52" font-size="12.3" font-weight="bold" stroke="#000" stroke-width="0.22"  text-anchor="end" fill="#000" >80</text>
<line x1="524.00" y1="353.70" x2="531.20" y2="353.70" stroke="#000" stroke-width="2" />
<text x="521.00" y="358.10" font-size="12.3" font-weight="bold" stroke="#000" stroke-width="0.22"  text-anchor="end" fill="#000" >100</text>
<text transform="translate(491.60,437.30) rotate(-90)" font-size="13.5" font-weight="bold" stroke="#000" stroke-width="0.22"  text-anchor="middle" fill="#000">Jag1 % (of Tregs)</text>
<line x1="530.20" y1="520.80" x2="667.80" y2="520.80" stroke="#000" stroke-width="2" />
<line x1="558.60" y1="520.80" x2="558.60" y2="527.80" stroke="#000" stroke-width="2" />
<text x="558.60" y="542.10" font-size="12.5" font-weight="bold" stroke="#000" stroke-width="0.22"  text-anchor="middle" fill="#000" >Skin</text>
<line x1="599.90" y1="520.80" x2="599.90" y2="527.80" stroke="#000" stroke-width="2" />
<text x="599.90" y="542.10" font-size="12.5" font-weight="bold" stroke="#000" stroke-width="0.22"  text-anchor="middle" fill="#000" >Lung</text>
<line x1="640.90" y1="520.80" x2="640.90" y2="527.80" stroke="#000" stroke-width="2" />
<text x="640.90" y="542.10" font-size="12.5" font-weight="bold" stroke="#000" stroke-width="0.22"  text-anchor="middle" fill="#000" >SDLN</text>
<rect x="545.70" y="428.30" width="26.40" height="92.50" fill="#fff" stroke="#000" stroke-width="2" />
<rect x="587.00" y="506.80" width="26.40" height="14.00" fill="#fff" stroke="#000" stroke-width="2" />
<rect x="628.00" y="515.40" width="26.40" height="5.40" fill="#fff" stroke="#000" stroke-width="2" />
<circle cx="548.30" cy="401.70" r="3.3" fill="#fff" stroke="#000" stroke-width="1.2"/>
<circle cx="558.60" cy="398.90" r="3.3" fill="#fff" stroke="#000" stroke-width="1.2"/>
<circle cx="558.60" cy="407.90" r="3.3" fill="#fff" stroke="#000" stroke-width="1.2"/>
<circle cx="569.10" cy="411.70" r="3.3" fill="#fff" stroke="#000" stroke-width="1.2"/>
<circle cx="548.30" cy="413.20" r="3.3" fill="#fff" stroke="#000" stroke-width="1.2"/>
<circle cx="558.60" cy="415.60" r="3.3" fill="#fff" stroke="#000" stroke-width="1.2"/>
<circle cx="548.30" cy="421.60" r="3.3" fill="#fff" stroke="#000" stroke-width="1.2"/>
<circle cx="558.60" cy="423.40" r="3.3" fill="#fff" stroke="#000" stroke-width="1.2"/>
<circle cx="548.30" cy="428.50" r="3.3" fill="#fff" stroke="#000" stroke-width="1.2"/>
<circle cx="558.60" cy="432.10" r="3.3" fill="#fff" stroke="#000" stroke-width="1.2"/>
<circle cx="569.10" cy="431.70" r="3.3" fill="#fff" stroke="#000" stroke-width="1.2"/>
<circle cx="558.60" cy="453.00" r="3.3" fill="#fff" stroke="#000" stroke-width="1.2"/>
<circle cx="569.10" cy="450.60" r="3.3" fill="#fff" stroke="#000" stroke-width="1.2"/>
<circle cx="569.10" cy="459.80" r="3.3" fill="#fff" stroke="#000" stroke-width="1.2"/>
<circle cx="548.30" cy="465.50" r="3.3" fill="#fff" stroke="#000" stroke-width="1.2"/>
<circle cx="594.60" cy="501.10" r="3.3" fill="#fff" stroke="#000" stroke-width="1.2"/>
<circle cx="604.90" cy="501.10" r="3.3" fill="#fff" stroke="#000" stroke-width="1.2"/>
<circle cx="589.10" cy="505.20" r="3.3" fill="#fff" stroke="#000" stroke-width="1.2"/>
<circle cx="610.10" cy="506.40" r="3.3" fill="#fff" stroke="#000" stroke-width="1.2"/>
<circle cx="599.90" cy="507.00" r="3.3" fill="#fff" stroke="#000" stroke-width="1.2"/>
<circle cx="594.60" cy="509.00" r="3.3" fill="#fff" stroke="#000" stroke-width="1.2"/>
<circle cx="604.90" cy="511.60" r="3.3" fill="#fff" stroke="#000" stroke-width="1.2"/>
<circle cx="594.60" cy="517.40" r="3.3" fill="#fff" stroke="#000" stroke-width="1.2"/>
<circle cx="630.50" cy="509.90" r="3.3" fill="#fff" stroke="#000" stroke-width="1.2"/>
<circle cx="644.20" cy="510.40" r="3.3" fill="#fff" stroke="#000" stroke-width="1.2"/>
<circle cx="635.80" cy="513.40" r="3.3" fill="#fff" stroke="#000" stroke-width="1.2"/>
<circle cx="640.70" cy="515.10" r="3.3" fill="#fff" stroke="#000" stroke-width="1.2"/>
<circle cx="650.10" cy="515.10" r="3.3" fill="#fff" stroke="#000" stroke-width="1.2"/>
<circle cx="630.50" cy="518.00" r="3.3" fill="#fff" stroke="#000" stroke-width="1.2"/>
<circle cx="644.20" cy="518.00" r="3.3" fill="#fff" stroke="#000" stroke-width="1.2"/>
<circle cx="651.50" cy="518.00" r="3.3" fill="#fff" stroke="#000" stroke-width="1.2"/>
<line x1="558.60" y1="422.20" x2="558.60" y2="433.20" stroke="#000" stroke-width="2" />
<line x1="551.60" y1="422.20" x2="565.60" y2="422.20" stroke="#000" stroke-width="2" />
<line x1="551.60" y1="433.20" x2="565.60" y2="433.20" stroke="#000" stroke-width="2" />
<line x1="599.90" y1="504.80" x2="599.90" y2="507.60" stroke="#000" stroke-width="2" />
<line x1="592.90" y1="504.80" x2="606.90" y2="504.80" stroke="#000" stroke-width="2" />
<line x1="592.90" y1="507.60" x2="606.90" y2="507.60" stroke="#000" stroke-width="2" />
<line x1="640.90" y1="514.00" x2="640.90" y2="516.40" stroke="#000" stroke-width="2" />
<line x1="633.90" y1="514.00" x2="647.90" y2="514.00" stroke="#000" stroke-width="2" />
<line x1="633.90" y1="516.40" x2="647.90" y2="516.40" stroke="#000" stroke-width="2" />
<polyline points="558.6,356.8 558.6,345.7 641.2,345.7 641.2,356.8" fill="none" stroke="#000" stroke-width="2"/>
<polyline points="558.6,390.2 558.6,379.3 599.8,379.3 599.8,390.2" fill="none" stroke="#000" stroke-width="2"/>
<path d="M584.15,337.45L584.15,329.95M580.90,335.57L587.40,331.82M580.90,331.82L587.40,335.57" stroke="#000" stroke-width="2.2" stroke-linecap="round" fill="none"/>
<path d="M594.45,337.45L594.45,329.95M591.20,335.57L597.70,331.82M591.20,331.82L597.70,335.57" stroke="#000" stroke-width="2.2" stroke-linecap="round" fill="none"/>
<path d="M604.75,337.45L604.75,329.95M601.50,335.57L608.00,331.82M601.50,331.82L608.00,335.57" stroke="#000" stroke-width="2.2" stroke-linecap="round" fill="none"/>
<path d="M615.05,337.45L615.05,329.95M611.80,335.57L618.30,331.82M611.80,331.82L618.30,335.57" stroke="#000" stroke-width="2.2" stroke-linecap="round" fill="none"/>
<path d="M563.75,371.15L563.75,363.65M560.50,369.27L567.00,365.52M560.50,365.52L567.00,369.27" stroke="#000" stroke-width="2.2" stroke-linecap="round" fill="none"/>
<path d="M574.05,371.15L574.05,363.65M570.80,369.27L577.30,365.52M570.80,365.52L577.30,369.27" stroke="#000" stroke-width="2.2" stroke-linecap="round" fill="none"/>
<path d="M584.35,371.15L584.35,363.65M581.10,369.27L587.60,365.52M581.10,365.52L587.60,369.27" stroke="#000" stroke-width="2.2" stroke-linecap="round" fill="none"/>
<path d="M594.65,371.15L594.65,363.65M591.40,369.27L597.90,365.52M591.40,365.52L597.90,369.27" stroke="#000" stroke-width="2.2" stroke-linecap="round" fill="none"/>
<text x="25.30" y="614.70" font-size="21" font-weight="bold" stroke="#000" stroke-width="0.22"  text-anchor="start" fill="#000" >F</text>
<text x="102.60" y="619.20" font-size="16"   text-anchor="middle" fill="#000" >Skin</text>
<rect x="44.60" y="624.00" width="133.80" height="220.00" fill="#fff" stroke="#8a8a8a" stroke-width="1" />
<path d="M45.10,678.70 C46.30,678.47 50.42,678.08 52.30,677.30 C54.18,676.52 54.87,675.30 56.40,674.00 C57.93,672.70 59.98,670.32 61.50,669.50 C63.02,668.68 63.97,669.10 65.50,669.10 C67.03,669.10 69.50,670.38 70.70,669.50 C71.90,668.62 71.85,665.15 72.70,663.80 C73.55,662.45 74.60,662.55 75.80,661.40 C77.00,660.25 78.72,657.07 79.90,656.90 C81.08,656.73 81.55,659.15 82.90,660.40 C84.25,661.65 86.47,663.05 88.00,664.40 C89.53,665.75 90.97,666.78 92.10,668.50 C93.23,670.22 93.78,673.07 94.80,674.70 C95.82,676.33 97.33,677.63 98.20,678.30 C99.07,678.97 99.70,678.63 100.00,678.70 L100,678.7 L45.1,678.7 Z" fill="#9AEC94" stroke="none"/>
<path d="M45.10,678.70 C46.30,678.47 50.42,678.08 52.30,677.30 C54.18,676.52 54.87,675.30 56.40,674.00 C57.93,672.70 59.98,670.32 61.50,669.50 C63.02,668.68 63.97,669.10 65.50,669.10 C67.03,669.10 69.50,670.38 70.70,669.50 C71.90,668.62 71.85,665.15 72.70,663.80 C73.55,662.45 74.60,662.55 75.80,661.40 C77.00,660.25 78.72,657.07 79.90,656.90 C81.08,656.73 81.55,659.15 82.90,660.40 C84.25,661.65 86.47,663.05 88.00,664.40 C89.53,665.75 90.97,666.78 92.10,668.50 C93.23,670.22 93.78,673.07 94.80,674.70 C95.82,676.33 97.33,677.63 98.20,678.30 C99.07,678.97 99.70,678.63 100.00,678.70" fill="none" stroke="#52D84E" stroke-width="1.3" stroke-linejoin="round"/>
<line x1="100.00" y1="678.70" x2="178.30" y2="678.70" stroke="#9AEC94" stroke-width="1.2" />
<path d="M45.10,734.10 C46.63,733.87 51.75,733.55 54.30,732.70 C56.85,731.85 58.87,730.47 60.40,729.00 C61.93,727.53 62.47,725.37 63.50,723.90 C64.53,722.43 65.58,720.27 66.60,720.20 C67.62,720.13 68.42,723.22 69.60,723.50 C70.78,723.78 72.50,722.00 73.70,721.90 C74.90,721.80 75.60,723.08 76.80,722.90 C78.00,722.72 79.72,720.73 80.90,720.80 C82.08,720.87 82.55,722.55 83.90,723.30 C85.25,724.05 87.47,725.37 89.00,725.30 C90.53,725.23 91.90,723.75 93.10,722.90 C94.30,722.05 95.00,720.30 96.20,720.20 C97.40,720.10 98.77,722.87 100.30,722.30 C101.83,721.73 103.70,719.08 105.40,716.80 C107.10,714.52 109.13,710.65 110.50,708.60 C111.87,706.55 112.68,704.15 113.60,704.50 C114.52,704.85 115.15,707.63 116.00,710.70 C116.85,713.77 117.75,719.50 118.70,722.90 C119.65,726.30 120.52,729.30 121.70,731.10 C122.88,732.90 124.75,733.20 125.80,733.70 C126.85,734.20 127.63,734.03 128.00,734.10 L128,734.1 L45.1,734.1 Z" fill="#FFAAAA" stroke="none"/>
<path d="M45.10,734.10 C46.63,733.87 51.75,733.55 54.30,732.70 C56.85,731.85 58.87,730.47 60.40,729.00 C61.93,727.53 62.47,725.37 63.50,723.90 C64.53,722.43 65.58,720.27 66.60,720.20 C67.62,720.13 68.42,723.22 69.60,723.50 C70.78,723.78 72.50,722.00 73.70,721.90 C74.90,721.80 75.60,723.08 76.80,722.90 C78.00,722.72 79.72,720.73 80.90,720.80 C82.08,720.87 82.55,722.55 83.90,723.30 C85.25,724.05 87.47,725.37 89.00,725.30 C90.53,725.23 91.90,723.75 93.10,722.90 C94.30,722.05 95.00,720.30 96.20,720.20 C97.40,720.10 98.77,722.87 100.30,722.30 C101.83,721.73 103.70,719.08 105.40,716.80 C107.10,714.52 109.13,710.65 110.50,708.60 C111.87,706.55 112.68,704.15 113.60,704.50 C114.52,704.85 115.15,707.63 116.00,710.70 C116.85,713.77 117.75,719.50 118.70,722.90 C119.65,726.30 120.52,729.30 121.70,731.10 C122.88,732.90 124.75,733.20 125.80,733.70 C126.85,734.20 127.63,734.03 128.00,734.10" fill="none" stroke="#F26464" stroke-width="1.3" stroke-linejoin="round"/>
<line x1="128.00" y1="734.10" x2="178.30" y2="734.10" stroke="#FFB4B4" stroke-width="1.2" />
<path d="M45.10,789.00 C45.72,788.93 47.58,789.00 48.80,788.60 C50.02,788.20 50.95,787.77 52.40,786.60 C53.85,785.43 56.17,783.53 57.50,781.60 C58.83,779.67 59.55,776.95 60.40,775.00 C61.25,773.05 61.98,770.63 62.60,769.90 C63.22,769.17 63.48,769.87 64.10,770.60 C64.72,771.33 65.45,774.17 66.30,774.30 C67.15,774.43 67.98,772.50 69.20,771.40 C70.42,770.30 72.02,768.92 73.60,767.70 C75.18,766.48 77.62,764.58 78.70,764.10 C79.78,763.62 79.50,763.95 80.10,764.80 C80.70,765.65 81.57,767.62 82.30,769.20 C83.03,770.78 83.65,774.92 84.50,774.30 C85.35,773.68 86.42,767.57 87.40,765.50 C88.38,763.43 89.50,763.12 90.40,761.90 C91.30,760.68 92.10,759.53 92.80,758.20 C93.50,756.87 93.92,753.77 94.60,753.90 C95.28,754.03 96.27,756.70 96.90,759.00 C97.53,761.30 97.90,765.63 98.40,767.70 C98.90,769.77 99.42,770.75 99.90,771.40 C100.38,772.05 100.22,771.53 101.30,771.60 C102.38,771.67 105.18,771.47 106.40,771.80 C107.62,772.13 107.75,772.45 108.60,773.60 C109.45,774.75 110.28,777.48 111.50,778.70 C112.72,779.92 114.18,779.68 115.90,780.90 C117.62,782.12 119.97,784.72 121.80,786.00 C123.63,787.28 125.70,788.10 126.90,788.60 C128.10,789.10 128.65,788.93 129.00,789.00 L129,789.0 L45.1,789.0 Z" fill="#9CE8FC" stroke="none"/>
<path d="M45.10,789.00 C45.72,788.93 47.58,789.00 48.80,788.60 C50.02,788.20 50.95,787.77 52.40,786.60 C53.85,785.43 56.17,783.53 57.50,781.60 C58.83,779.67 59.55,776.95 60.40,775.00 C61.25,773.05 61.98,770.63 62.60,769.90 C63.22,769.17 63.48,769.87 64.10,770.60 C64.72,771.33 65.45,774.17 66.30,774.30 C67.15,774.43 67.98,772.50 69.20,771.40 C70.42,770.30 72.02,768.92 73.60,767.70 C75.18,766.48 77.62,764.58 78.70,764.10 C79.78,763.62 79.50,763.95 80.10,764.80 C80.70,765.65 81.57,767.62 82.30,769.20 C83.03,770.78 83.65,774.92 84.50,774.30 C85.35,773.68 86.42,767.57 87.40,765.50 C88.38,763.43 89.50,763.12 90.40,761.90 C91.30,760.68 92.10,759.53 92.80,758.20 C93.50,756.87 93.92,753.77 94.60,753.90 C95.28,754.03 96.27,756.70 96.90,759.00 C97.53,761.30 97.90,765.63 98.40,767.70 C98.90,769.77 99.42,770.75 99.90,771.40 C100.38,772.05 100.22,771.53 101.30,771.60 C102.38,771.67 105.18,771.47 106.40,771.80 C107.62,772.13 107.75,772.45 108.60,773.60 C109.45,774.75 110.28,777.48 111.50,778.70 C112.72,779.92 114.18,779.68 115.90,780.90 C117.62,782.12 119.97,784.72 121.80,786.00 C123.63,787.28 125.70,788.10 126.90,788.60 C128.10,789.10 128.65,788.93 129.00,789.00" fill="none" stroke="#3CC8F0" stroke-width="1.3" stroke-linejoin="round"/>
<line x1="129.00" y1="789.00" x2="178.30" y2="789.00" stroke="#9CE8FC" stroke-width="1.2" />
<path d="M54.30,843.60 C55.00,843.03 57.05,841.50 58.50,840.20 C59.95,838.90 61.50,837.47 63.00,835.80 C64.50,834.13 66.33,831.70 67.50,830.20 C68.67,828.70 69.02,826.67 70.00,826.80 C70.98,826.93 72.25,830.08 73.40,831.00 C74.55,831.92 75.50,832.70 76.90,832.30 C78.30,831.90 80.42,829.17 81.80,828.60 C83.18,828.03 83.70,828.17 85.20,828.90 C86.70,829.63 89.17,833.05 90.80,833.00 C92.43,832.95 93.62,829.10 95.00,828.60 C96.38,828.10 97.73,830.23 99.10,830.00 C100.47,829.77 101.58,826.70 103.20,827.20 C104.82,827.70 106.83,833.42 108.80,833.00 C110.77,832.58 113.38,825.38 115.00,824.70 C116.62,824.02 117.22,826.58 118.50,828.90 C119.78,831.22 121.32,836.30 122.70,838.60 C124.08,840.90 125.65,841.87 126.80,842.70 C127.95,843.53 129.13,843.45 129.60,843.60 L129.6,843.6 L54.3,843.6 Z" fill="#FFD4A8" stroke="none"/>
<path d="M54.30,843.60 C55.00,843.03 57.05,841.50 58.50,840.20 C59.95,838.90 61.50,837.47 63.00,835.80 C64.50,834.13 66.33,831.70 67.50,830.20 C68.67,828.70 69.02,826.67 70.00,826.80 C70.98,826.93 72.25,830.08 73.40,831.00 C74.55,831.92 75.50,832.70 76.90,832.30 C78.30,831.90 80.42,829.17 81.80,828.60 C83.18,828.03 83.70,828.17 85.20,828.90 C86.70,829.63 89.17,833.05 90.80,833.00 C92.43,832.95 93.62,829.10 95.00,828.60 C96.38,828.10 97.73,830.23 99.10,830.00 C100.47,829.77 101.58,826.70 103.20,827.20 C104.82,827.70 106.83,833.42 108.80,833.00 C110.77,832.58 113.38,825.38 115.00,824.70 C116.62,824.02 117.22,826.58 118.50,828.90 C119.78,831.22 121.32,836.30 122.70,838.60 C124.08,840.90 125.65,841.87 126.80,842.70 C127.95,843.53 129.13,843.45 129.60,843.60" fill="none" stroke="#F8AE6C" stroke-width="1.3" stroke-linejoin="round"/>
<rect x="44.60" y="624.00" width="133.80" height="220.00" fill="none" stroke="#8a8a8a" stroke-width="1.2" />
<line x1="100.50" y1="624.00" x2="100.50" y2="844.00" stroke="#333" stroke-width="1.2" stroke-dasharray="10,3.2" stroke-dashoffset="0.6"/>
<text x="175.30" y="638.60" font-size="15.8"   text-anchor="end" fill="#000" >FMO</text>
<text x="175.90" y="694.40" font-size="15.8"   text-anchor="end" fill="#000" >Tregs</text>
<text x="175.30" y="750.30" font-size="15.8"   text-anchor="end" fill="#000" >Teffs</text>
<text x="175.30" y="805.00" font-size="15.8"   text-anchor="end" fill="#000" >CD8+</text>
<text transform="translate(41.50,735.00) rotate(-90)" font-size="16.1"   text-anchor="middle" fill="#000">% Max</text>
<text x="109.30" y="866.20" font-size="15.5"   text-anchor="middle" fill="#000" >Jag1</text>
<line x1="57.40" y1="844.20" x2="57.40" y2="848.60" stroke="#333" stroke-width="1" />
<line x1="74.70" y1="844.20" x2="74.70" y2="848.60" stroke="#333" stroke-width="1" />
<line x1="92.70" y1="844.20" x2="92.70" y2="848.60" stroke="#333" stroke-width="1" />
<line x1="117.30" y1="844.20" x2="117.30" y2="848.60" stroke="#333" stroke-width="1" />
<line x1="142.20" y1="844.20" x2="142.20" y2="848.60" stroke="#333" stroke-width="1" />
<line x1="167.10" y1="844.20" x2="167.10" y2="848.60" stroke="#333" stroke-width="1" />
<line x1="62.61" y1="844.20" x2="62.61" y2="846.60" stroke="#555" stroke-width="0.7" />
<line x1="65.65" y1="844.20" x2="65.65" y2="846.60" stroke="#555" stroke-width="0.7" />
<line x1="67.82" y1="844.20" x2="67.82" y2="846.60" stroke="#555" stroke-width="0.7" />
<line x1="69.49" y1="844.20" x2="69.49" y2="846.60" stroke="#555" stroke-width="0.7" />
<line x1="70.86" y1="844.20" x2="70.86" y2="846.60" stroke="#555" stroke-width="0.7" />
<line x1="72.02" y1="844.20" x2="72.02" y2="846.60" stroke="#555" stroke-width="0.7" />
<line x1="73.02" y1="844.20" x2="73.02" y2="846.60" stroke="#555" stroke-width="0.7" />
<line x1="73.91" y1="844.20" x2="73.91" y2="846.60" stroke="#555" stroke-width="0.7" />
<line x1="80.12" y1="844.20" x2="80.12" y2="846.60" stroke="#555" stroke-width="0.7" />
<line x1="83.29" y1="844.20" x2="83.29" y2="846.60" stroke="#555" stroke-width="0.7" />
<line x1="85.54" y1="844.20" x2="85.54" y2="846.60" stroke="#555" stroke-width="0.7" />
<line x1="87.28" y1="844.20" x2="87.28" y2="846.60" stroke="#555" stroke-width="0.7" />
<line x1="88.71" y1="844.20" x2="88.71" y2="846.60" stroke="#555" stroke-width="0.7" />
<line x1="89.91" y1="844.20" x2="89.91" y2="846.60" stroke="#555" stroke-width="0.7" />
<line x1="90.96" y1="844.20" x2="90.96" y2="846.60" stroke="#555" stroke-width="0.7" />
<line x1="91.88" y1="844.20" x2="91.88" y2="846.60" stroke="#555" stroke-width="0.7" />
<line x1="100.11" y1="844.20" x2="100.11" y2="846.60" stroke="#555" stroke-width="0.7" />
<line x1="104.44" y1="844.20" x2="104.44" y2="846.60" stroke="#555" stroke-width="0.7" />
<line x1="107.51" y1="844.20" x2="107.51" y2="846.60" stroke="#555" stroke-width="0.7" />
<line x1="109.89" y1="844.20" x2="109.89" y2="846.60" stroke="#555" stroke-width="0.7" />
<line x1="111.84" y1="844.20" x2="111.84" y2="846.60" stroke="#555" stroke-width="0.7" />
<line x1="113.49" y1="844.20" x2="113.49" y2="846.60" stroke="#555" stroke-width="0.7" />
<line x1="114.92" y1="844.20" x2="114.92" y2="846.60" stroke="#555" stroke-width="0.7" />
<line x1="116.17" y1="844.20" x2="116.17" y2="846.60" stroke="#555" stroke-width="0.7" />
<line x1="124.80" y1="844.20" x2="124.80" y2="846.60" stroke="#555" stroke-width="0.7" />
<line x1="129.18" y1="844.20" x2="129.18" y2="846.60" stroke="#555" stroke-width="0.7" />
<line x1="132.29" y1="844.20" x2="132.29" y2="846.60" stroke="#555" stroke-width="0.7" />
<line x1="134.70" y1="844.20" x2="134.70" y2="846.60" stroke="#555" stroke-width="0.7" />
<line x1="136.68" y1="844.20" x2="136.68" y2="846.60" stroke="#555" stroke-width="0.7" />
<line x1="138.34" y1="844.20" x2="138.34" y2="846.60" stroke="#555" stroke-width="0.7" />
<line x1="139.79" y1="844.20" x2="139.79" y2="846.60" stroke="#555" stroke-width="0.7" />
<line x1="141.06" y1="844.20" x2="141.06" y2="846.60" stroke="#555" stroke-width="0.7" />
<line x1="149.70" y1="844.20" x2="149.70" y2="846.60" stroke="#555" stroke-width="0.7" />
<line x1="154.08" y1="844.20" x2="154.08" y2="846.60" stroke="#555" stroke-width="0.7" />
<line x1="157.19" y1="844.20" x2="157.19" y2="846.60" stroke="#555" stroke-width="0.7" />
<line x1="159.60" y1="844.20" x2="159.60" y2="846.60" stroke="#555" stroke-width="0.7" />
<line x1="161.58" y1="844.20" x2="161.58" y2="846.60" stroke="#555" stroke-width="0.7" />
<line x1="163.24" y1="844.20" x2="163.24" y2="846.60" stroke="#555" stroke-width="0.7" />
<line x1="164.69" y1="844.20" x2="164.69" y2="846.60" stroke="#555" stroke-width="0.7" />
<line x1="165.96" y1="844.20" x2="165.96" y2="846.60" stroke="#555" stroke-width="0.7" />
<line x1="47.00" y1="844.20" x2="47.00" y2="846.60" stroke="#555" stroke-width="0.7" />
<line x1="50.00" y1="844.20" x2="50.00" y2="846.60" stroke="#555" stroke-width="0.7" />
<line x1="53.00" y1="844.20" x2="53.00" y2="846.60" stroke="#555" stroke-width="0.7" />
<rect x="72.60" y="845.20" width="5.00" height="2.60" fill="#222" stroke="none" stroke-width="1" />
<rect x="56.80" y="845.00" width="1.60" height="3.40" fill="#222" stroke="none" stroke-width="1" />
<text x="188.00" y="610.50" font-size="21" font-weight="bold" stroke="#000" stroke-width="0.22"  text-anchor="start" fill="#000" >G</text>
<line x1="242.00" y1="656.30" x2="242.00" y2="825.50" stroke="#000" stroke-width="2" />
<line x1="235.20" y1="824.50" x2="242.00" y2="824.50" stroke="#000" stroke-width="2" />
<text x="232.50" y="828.90" font-size="12.5" font-weight="bold" stroke="#000" stroke-width="0.22"  text-anchor="end" fill="#000" >0</text>
<line x1="235.20" y1="791.10" x2="242.00" y2="791.10" stroke="#000" stroke-width="2" />
<text x="232.50" y="795.50" font-size="12.5" font-weight="bold" stroke="#000" stroke-width="0.22"  text-anchor="end" fill="#000" >5</text>
<line x1="235.20" y1="757.70" x2="242.00" y2="757.70" stroke="#000" stroke-width="2" />
<text x="232.50" y="762.10" font-size="12.5" font-weight="bold" stroke="#000" stroke-width="0.22"  text-anchor="end" fill="#000" >10</text>
<line x1="235.20" y1="724.30" x2="242.00" y2="724.30" stroke="#000" stroke-width="2" />
<text x="232.50" y="728.70" font-size="12.5" font-weight="bold" stroke="#000" stroke-width="0.22"  text-anchor="end" fill="#000" >15</text>
<line x1="235.20" y1="690.90" x2="242.00" y2="690.90" stroke="#000" stroke-width="2" />
<text x="232.50" y="695.30" font-size="12.5" font-weight="bold" stroke="#000" stroke-width="0.22"  text-anchor="end" fill="#000" >20</text>
<line x1="235.20" y1="657.50" x2="242.00" y2="657.50" stroke="#000" stroke-width="2" />
<text x="232.50" y="661.90" font-size="12.5" font-weight="bold" stroke="#000" stroke-width="0.22"  text-anchor="end" fill="#000" >25</text>
<text transform="translate(209.80,740.70) rotate(-90)" font-size="13.5" font-weight="bold" stroke="#000" stroke-width="0.22"  text-anchor="middle" fill="#000">Jag1 MFI (Ref. to FMO )</text>
<line x1="241.00" y1="824.50" x2="368.00" y2="824.50" stroke="#000" stroke-width="2" />
<line x1="266.90" y1="824.50" x2="266.90" y2="831.50" stroke="#000" stroke-width="2" />
<text x="266.90" y="845.80" font-size="12.6" font-weight="bold" stroke="#000" stroke-width="0.22"  text-anchor="middle" fill="#000" >Tregs</text>
<line x1="305.60" y1="824.50" x2="305.60" y2="831.50" stroke="#000" stroke-width="2" />
<text x="305.60" y="845.80" font-size="12.6" font-weight="bold" stroke="#000" stroke-width="0.22"  text-anchor="middle" fill="#000" >Teffs</text>
<line x1="343.70" y1="824.50" x2="343.70" y2="831.50" stroke="#000" stroke-width="2" />
<text x="343.70" y="845.80" font-size="12.6" font-weight="bold" stroke="#000" stroke-width="0.22"  text-anchor="middle" fill="#000" >CD8</text>
<rect x="255.50" y="713.60" width="24.00" height="110.90" fill="#fff" stroke="#000" stroke-width="2" />
<rect x="293.70" y="779.10" width="24.00" height="45.40" fill="#fff" stroke="#000" stroke-width="2" />
<rect x="331.90" y="771.50" width="24.00" height="53.00" fill="#fff" stroke="#000" stroke-width="2" />
<circle cx="266.90" cy="695.90" r="3.2" fill="#fff" stroke="#000" stroke-width="1.2"/>
<circle cx="257.60" cy="705.00" r="3.2" fill="#fff" stroke="#000" stroke-width="1.2"/>
<circle cx="264.30" cy="704.10" r="3.2" fill="#fff" stroke="#000" stroke-width="1.2"/>
<circle cx="270.40" cy="710.20" r="3.2" fill="#fff" stroke="#000" stroke-width="1.2"/>
<circle cx="276.90" cy="709.70" r="3.2" fill="#fff" stroke="#000" stroke-width="1.2"/>
<circle cx="264.30" cy="715.50" r="3.2" fill="#fff" stroke="#000" stroke-width="1.2"/>
<circle cx="270.40" cy="716.40" r="3.2" fill="#fff" stroke="#000" stroke-width="1.2"/>
<circle cx="266.90" cy="744.40" r="3.2" fill="#fff" stroke="#000" stroke-width="1.2"/>
<circle cx="302.30" cy="762.80" r="3.2" fill="#fff" stroke="#000" stroke-width="1.2"/>
<circle cx="308.60" cy="760.10" r="3.2" fill="#fff" stroke="#000" stroke-width="1.2"/>
<circle cx="301.90" cy="721.30" r="3.2" fill="#fff" stroke="#000" stroke-width="1.2"/>
<circle cx="309.00" cy="716.00" r="3.2" fill="#fff" stroke="#000" stroke-width="1.2"/>
<circle cx="295.80" cy="819.70" r="3.2" fill="#fff" stroke="#000" stroke-width="1.2"/>
<circle cx="302.30" cy="813.70" r="3.2" fill="#fff" stroke="#000" stroke-width="1.2"/>
<circle cx="308.60" cy="818.10" r="3.2" fill="#fff" stroke="#000" stroke-width="1.2"/>
<circle cx="315.10" cy="813.70" r="3.2" fill="#fff" stroke="#000" stroke-width="1.2"/>
<circle cx="343.60" cy="720.40" r="3.2" fill="#fff" stroke="#000" stroke-width="1.2"/>
<circle cx="343.60" cy="734.40" r="3.2" fill="#fff" stroke="#000" stroke-width="1.2"/>
<circle cx="343.60" cy="748.90" r="3.2" fill="#fff" stroke="#000" stroke-width="1.2"/>
<circle cx="343.60" cy="762.40" r="3.2" fill="#fff" stroke="#000" stroke-width="1.2"/>
<circle cx="343.60" cy="792.20" r="3.2" fill="#fff" stroke="#000" stroke-width="1.2"/>
<circle cx="334.30" cy="798.90" r="3.2" fill="#fff" stroke="#000" stroke-width="1.2"/>
<circle cx="353.10" cy="800.60" r="3.2" fill="#fff" stroke="#000" stroke-width="1.2"/>
<circle cx="343.60" cy="807.40" r="3.2" fill="#fff" stroke="#000" stroke-width="1.2"/>
<line x1="266.90" y1="707.40" x2="266.90" y2="718.50" stroke="#000" stroke-width="2" />
<line x1="260.40" y1="707.40" x2="273.40" y2="707.40" stroke="#000" stroke-width="2" />
<line x1="260.40" y1="718.50" x2="273.40" y2="718.50" stroke="#000" stroke-width="2" />
<line x1="305.60" y1="762.40" x2="305.60" y2="794.00" stroke="#000" stroke-width="2" />
<line x1="299.10" y1="762.40" x2="312.10" y2="762.40" stroke="#000" stroke-width="2" />
<line x1="299.10" y1="794.00" x2="312.10" y2="794.00" stroke="#000" stroke-width="2" />
<line x1="343.70" y1="758.40" x2="343.70" y2="782.20" stroke="#000" stroke-width="2" />
<line x1="337.20" y1="758.40" x2="350.20" y2="758.40" stroke="#000" stroke-width="2" />
<line x1="337.20" y1="782.20" x2="350.20" y2="782.20" stroke="#000" stroke-width="2" />
<polyline points="266.9,653 266.9,642.4 344,642.4 344,653" fill="none" stroke="#000" stroke-width="2"/>
<polyline points="266.9,686.6 266.9,676.1 305.4,676.1 305.4,686.6" fill="none" stroke="#000" stroke-width="2"/>
<path d="M300.30,634.55L300.30,627.05M297.05,632.67L303.55,628.92M297.05,628.92L303.55,632.67" stroke="#000" stroke-width="2.2" stroke-linecap="round" fill="none"/>
<path d="M310.70,634.55L310.70,627.05M307.45,632.67L313.95,628.92M307.45,628.92L313.95,632.67" stroke="#000" stroke-width="2.2" stroke-linecap="round" fill="none"/>
<path d="M281.40,668.35L281.40,660.85M278.15,666.48L284.65,662.73M278.15,662.73L284.65,666.48" stroke="#000" stroke-width="2.2" stroke-linecap="round" fill="none"/>
<path d="M291.80,668.35L291.80,660.85M288.55,666.48L295.05,662.73M288.55,662.73L295.05,666.48" stroke="#000" stroke-width="2.2" stroke-linecap="round" fill="none"/>
</svg></body></html>
